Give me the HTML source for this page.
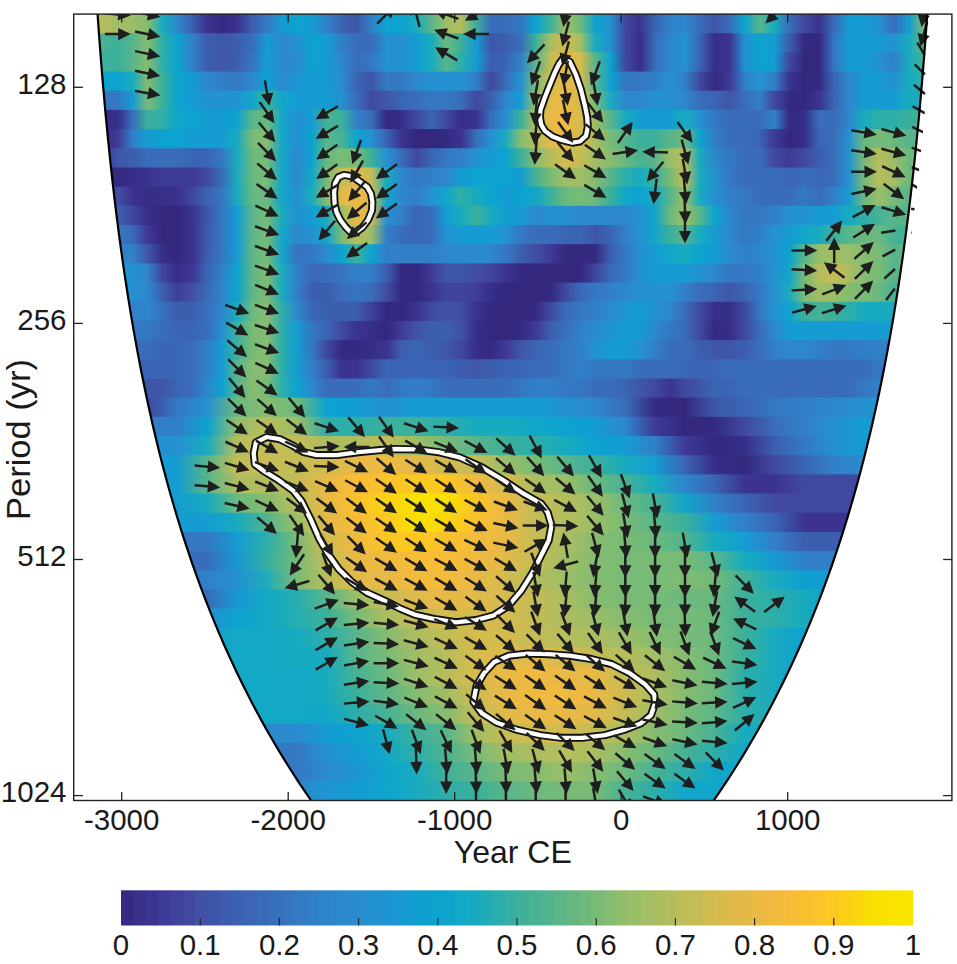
<!DOCTYPE html><html><head><meta charset="utf-8"><style>html,body{margin:0;padding:0;background:#fff;}svg{display:block;}text{font-family:"Liberation Sans",Arial,sans-serif;fill:#1a1a1a;}</style></head><body>
<svg width="957" height="964" viewBox="0 0 957 964">
<defs>
<clipPath id="pc"><rect x="74.0" y="14.0" width="878.0" height="786.5"/></clipPath>
<linearGradient id="g0" gradientUnits="userSpaceOnUse" x1="74.0" y1="0" x2="952.0" y2="0">
<stop offset="0.0159" stop-color="#b7bd5c"/>
<stop offset="0.0329" stop-color="#b7bd5c"/>
<stop offset="0.0499" stop-color="#a1be65"/>
<stop offset="0.0669" stop-color="#9bbe67"/>
<stop offset="0.0839" stop-color="#86bc70"/>
<stop offset="0.1009" stop-color="#18abbf"/>
<stop offset="0.1179" stop-color="#2d87cc"/>
<stop offset="0.1349" stop-color="#3c5eaf"/>
<stop offset="0.1519" stop-color="#3b338f"/>
<stop offset="0.1689" stop-color="#342a81"/>
<stop offset="0.1859" stop-color="#3b338f"/>
<stop offset="0.2029" stop-color="#3c5eaf"/>
<stop offset="0.2199" stop-color="#3478c2"/>
<stop offset="0.2369" stop-color="#159cd2"/>
<stop offset="0.2539" stop-color="#0ca3cf"/>
<stop offset="0.2709" stop-color="#159cd2"/>
<stop offset="0.2879" stop-color="#3180c7"/>
<stop offset="0.3049" stop-color="#3a65b4"/>
<stop offset="0.3219" stop-color="#3f56a8"/>
<stop offset="0.3389" stop-color="#3180c7"/>
<stop offset="0.3559" stop-color="#0ca3cf"/>
<stop offset="0.3729" stop-color="#0ca3cf"/>
<stop offset="0.3899" stop-color="#18abbf"/>
<stop offset="0.4069" stop-color="#58b58b"/>
<stop offset="0.4239" stop-color="#9bbe67"/>
<stop offset="0.4409" stop-color="#b7bd5c"/>
<stop offset="0.4579" stop-color="#3bb09a"/>
<stop offset="0.4749" stop-color="#396dba"/>
<stop offset="0.4919" stop-color="#396dba"/>
<stop offset="0.5089" stop-color="#3478c2"/>
<stop offset="0.5259" stop-color="#0ca3cf"/>
<stop offset="0.5429" stop-color="#3bb09a"/>
<stop offset="0.5599" stop-color="#a1be65"/>
<stop offset="0.5769" stop-color="#6bb97e"/>
<stop offset="0.5938" stop-color="#0ca3cf"/>
<stop offset="0.6108" stop-color="#2491d1"/>
<stop offset="0.6278" stop-color="#40499f"/>
<stop offset="0.6448" stop-color="#3b338f"/>
<stop offset="0.6618" stop-color="#3a65b4"/>
<stop offset="0.6788" stop-color="#3180c7"/>
<stop offset="0.6958" stop-color="#2d87cc"/>
<stop offset="0.7128" stop-color="#396dba"/>
<stop offset="0.7298" stop-color="#3f56a8"/>
<stop offset="0.7468" stop-color="#396dba"/>
<stop offset="0.7638" stop-color="#0ca3cf"/>
<stop offset="0.7808" stop-color="#58b58b"/>
<stop offset="0.7978" stop-color="#18abbf"/>
<stop offset="0.8148" stop-color="#396dba"/>
<stop offset="0.8318" stop-color="#40499f"/>
<stop offset="0.8488" stop-color="#3b338f"/>
<stop offset="0.8658" stop-color="#396dba"/>
<stop offset="0.8828" stop-color="#159cd2"/>
<stop offset="0.8998" stop-color="#159cd2"/>
<stop offset="0.9168" stop-color="#2491d1"/>
<stop offset="0.9338" stop-color="#396dba"/>
<stop offset="0.9508" stop-color="#159cd2"/>
<stop offset="0.9678" stop-color="#78bb76"/>
<stop offset="0.9848" stop-color="#78bb76"/>
<stop offset="1.0000" stop-color="#78bb76"/>
</linearGradient>
<linearGradient id="g1" gradientUnits="userSpaceOnUse" x1="74.0" y1="0" x2="952.0" y2="0">
<stop offset="0.0159" stop-color="#47b294"/>
<stop offset="0.0329" stop-color="#47b294"/>
<stop offset="0.0499" stop-color="#3bb09a"/>
<stop offset="0.0669" stop-color="#58b58b"/>
<stop offset="0.0839" stop-color="#86bc70"/>
<stop offset="0.1009" stop-color="#2daea9"/>
<stop offset="0.1179" stop-color="#0ca3cf"/>
<stop offset="0.1349" stop-color="#3180c7"/>
<stop offset="0.1519" stop-color="#3c5eaf"/>
<stop offset="0.1689" stop-color="#3f56a8"/>
<stop offset="0.1859" stop-color="#3c5eaf"/>
<stop offset="0.2029" stop-color="#396dba"/>
<stop offset="0.2199" stop-color="#159cd2"/>
<stop offset="0.2369" stop-color="#2d87cc"/>
<stop offset="0.2539" stop-color="#2491d1"/>
<stop offset="0.2709" stop-color="#0ca3cf"/>
<stop offset="0.2879" stop-color="#159cd2"/>
<stop offset="0.3049" stop-color="#3180c7"/>
<stop offset="0.3219" stop-color="#396dba"/>
<stop offset="0.3389" stop-color="#396dba"/>
<stop offset="0.3559" stop-color="#2491d1"/>
<stop offset="0.3729" stop-color="#2491d1"/>
<stop offset="0.3899" stop-color="#159cd2"/>
<stop offset="0.4069" stop-color="#18abbf"/>
<stop offset="0.4239" stop-color="#6bb97e"/>
<stop offset="0.4409" stop-color="#3bb09a"/>
<stop offset="0.4579" stop-color="#159cd2"/>
<stop offset="0.4749" stop-color="#3f56a8"/>
<stop offset="0.4919" stop-color="#3c5eaf"/>
<stop offset="0.5089" stop-color="#396dba"/>
<stop offset="0.5259" stop-color="#3bb09a"/>
<stop offset="0.5429" stop-color="#acbd60"/>
<stop offset="0.5599" stop-color="#d4bb4e"/>
<stop offset="0.5769" stop-color="#a1be65"/>
<stop offset="0.5938" stop-color="#18abbf"/>
<stop offset="0.6108" stop-color="#2491d1"/>
<stop offset="0.6278" stop-color="#40499f"/>
<stop offset="0.6448" stop-color="#372e88"/>
<stop offset="0.6618" stop-color="#396dba"/>
<stop offset="0.6788" stop-color="#2d87cc"/>
<stop offset="0.6958" stop-color="#2491d1"/>
<stop offset="0.7128" stop-color="#3a65b4"/>
<stop offset="0.7298" stop-color="#372e88"/>
<stop offset="0.7468" stop-color="#3b338f"/>
<stop offset="0.7638" stop-color="#2491d1"/>
<stop offset="0.7808" stop-color="#0ca3cf"/>
<stop offset="0.7978" stop-color="#159cd2"/>
<stop offset="0.8148" stop-color="#3c5eaf"/>
<stop offset="0.8318" stop-color="#342a81"/>
<stop offset="0.8488" stop-color="#33287e"/>
<stop offset="0.8658" stop-color="#3478c2"/>
<stop offset="0.8828" stop-color="#159cd2"/>
<stop offset="0.8998" stop-color="#159cd2"/>
<stop offset="0.9168" stop-color="#159cd2"/>
<stop offset="0.9338" stop-color="#2491d1"/>
<stop offset="0.9508" stop-color="#18abbf"/>
<stop offset="0.9678" stop-color="#58b58b"/>
<stop offset="0.9848" stop-color="#58b58b"/>
<stop offset="1.0000" stop-color="#58b58b"/>
</linearGradient>
<linearGradient id="g2" gradientUnits="userSpaceOnUse" x1="74.0" y1="0" x2="952.0" y2="0">
<stop offset="0.0159" stop-color="#3bb09a"/>
<stop offset="0.0329" stop-color="#3bb09a"/>
<stop offset="0.0499" stop-color="#3bb09a"/>
<stop offset="0.0669" stop-color="#58b58b"/>
<stop offset="0.0839" stop-color="#86bc70"/>
<stop offset="0.1009" stop-color="#2daea9"/>
<stop offset="0.1179" stop-color="#0ca3cf"/>
<stop offset="0.1349" stop-color="#3180c7"/>
<stop offset="0.1519" stop-color="#3c5eaf"/>
<stop offset="0.1689" stop-color="#3f56a8"/>
<stop offset="0.1859" stop-color="#3c5eaf"/>
<stop offset="0.2029" stop-color="#3674bf"/>
<stop offset="0.2199" stop-color="#159cd2"/>
<stop offset="0.2369" stop-color="#2d87cc"/>
<stop offset="0.2539" stop-color="#2b8ace"/>
<stop offset="0.2709" stop-color="#0ca3cf"/>
<stop offset="0.2879" stop-color="#159cd2"/>
<stop offset="0.3049" stop-color="#2d87cc"/>
<stop offset="0.3219" stop-color="#396dba"/>
<stop offset="0.3389" stop-color="#3478c2"/>
<stop offset="0.3559" stop-color="#2491d1"/>
<stop offset="0.3729" stop-color="#2491d1"/>
<stop offset="0.3899" stop-color="#159cd2"/>
<stop offset="0.4069" stop-color="#18abbf"/>
<stop offset="0.4239" stop-color="#58b58b"/>
<stop offset="0.4409" stop-color="#2daea9"/>
<stop offset="0.4579" stop-color="#159cd2"/>
<stop offset="0.4749" stop-color="#3c5eaf"/>
<stop offset="0.4919" stop-color="#3a65b4"/>
<stop offset="0.5089" stop-color="#3180c7"/>
<stop offset="0.5259" stop-color="#58b58b"/>
<stop offset="0.5429" stop-color="#c3bc56"/>
<stop offset="0.5599" stop-color="#e9b946"/>
<stop offset="0.5769" stop-color="#d4bb4e"/>
<stop offset="0.5938" stop-color="#58b58b"/>
<stop offset="0.6108" stop-color="#0ca3cf"/>
<stop offset="0.6278" stop-color="#40499f"/>
<stop offset="0.6448" stop-color="#372e88"/>
<stop offset="0.6618" stop-color="#396dba"/>
<stop offset="0.6788" stop-color="#2d87cc"/>
<stop offset="0.6958" stop-color="#2491d1"/>
<stop offset="0.7128" stop-color="#3a65b4"/>
<stop offset="0.7298" stop-color="#372e88"/>
<stop offset="0.7468" stop-color="#3b338f"/>
<stop offset="0.7638" stop-color="#2491d1"/>
<stop offset="0.7808" stop-color="#0ca3cf"/>
<stop offset="0.7978" stop-color="#159cd2"/>
<stop offset="0.8148" stop-color="#40499f"/>
<stop offset="0.8318" stop-color="#33287e"/>
<stop offset="0.8488" stop-color="#33287e"/>
<stop offset="0.8658" stop-color="#3478c2"/>
<stop offset="0.8828" stop-color="#159cd2"/>
<stop offset="0.8998" stop-color="#159cd2"/>
<stop offset="0.9168" stop-color="#2491d1"/>
<stop offset="0.9338" stop-color="#3180c7"/>
<stop offset="0.9508" stop-color="#18abbf"/>
<stop offset="0.9678" stop-color="#47b294"/>
<stop offset="0.9848" stop-color="#47b294"/>
<stop offset="1.0000" stop-color="#47b294"/>
</linearGradient>
<linearGradient id="g3" gradientUnits="userSpaceOnUse" x1="74.0" y1="0" x2="952.0" y2="0">
<stop offset="0.0159" stop-color="#0ca3cf"/>
<stop offset="0.0329" stop-color="#0ca3cf"/>
<stop offset="0.0499" stop-color="#0ca3cf"/>
<stop offset="0.0669" stop-color="#18abbf"/>
<stop offset="0.0839" stop-color="#86bc70"/>
<stop offset="0.1009" stop-color="#3bb09a"/>
<stop offset="0.1179" stop-color="#0ca3cf"/>
<stop offset="0.1349" stop-color="#159cd2"/>
<stop offset="0.1519" stop-color="#2d87cc"/>
<stop offset="0.1689" stop-color="#3180c7"/>
<stop offset="0.1859" stop-color="#3478c2"/>
<stop offset="0.2029" stop-color="#2d87cc"/>
<stop offset="0.2199" stop-color="#0ca3cf"/>
<stop offset="0.2369" stop-color="#2b8ace"/>
<stop offset="0.2539" stop-color="#1e95d2"/>
<stop offset="0.2709" stop-color="#159cd2"/>
<stop offset="0.2879" stop-color="#159cd2"/>
<stop offset="0.3049" stop-color="#2b8ace"/>
<stop offset="0.3219" stop-color="#3a65b4"/>
<stop offset="0.3389" stop-color="#3f56a8"/>
<stop offset="0.3559" stop-color="#3478c2"/>
<stop offset="0.3729" stop-color="#3478c2"/>
<stop offset="0.3899" stop-color="#2d87cc"/>
<stop offset="0.4069" stop-color="#2491d1"/>
<stop offset="0.4239" stop-color="#2491d1"/>
<stop offset="0.4409" stop-color="#2491d1"/>
<stop offset="0.4579" stop-color="#3180c7"/>
<stop offset="0.4749" stop-color="#40499f"/>
<stop offset="0.4919" stop-color="#396dba"/>
<stop offset="0.5089" stop-color="#2491d1"/>
<stop offset="0.5259" stop-color="#78bb76"/>
<stop offset="0.5429" stop-color="#d4bb4e"/>
<stop offset="0.5599" stop-color="#e9b946"/>
<stop offset="0.5769" stop-color="#d4bb4e"/>
<stop offset="0.5938" stop-color="#58b58b"/>
<stop offset="0.6108" stop-color="#0ca3cf"/>
<stop offset="0.6278" stop-color="#3478c2"/>
<stop offset="0.6448" stop-color="#3478c2"/>
<stop offset="0.6618" stop-color="#3180c7"/>
<stop offset="0.6788" stop-color="#2491d1"/>
<stop offset="0.6958" stop-color="#3180c7"/>
<stop offset="0.7128" stop-color="#40499f"/>
<stop offset="0.7298" stop-color="#342a81"/>
<stop offset="0.7468" stop-color="#3e3a97"/>
<stop offset="0.7638" stop-color="#3180c7"/>
<stop offset="0.7808" stop-color="#2491d1"/>
<stop offset="0.7978" stop-color="#3180c7"/>
<stop offset="0.8148" stop-color="#3b338f"/>
<stop offset="0.8318" stop-color="#33287e"/>
<stop offset="0.8488" stop-color="#342a81"/>
<stop offset="0.8658" stop-color="#3a65b4"/>
<stop offset="0.8828" stop-color="#2d87cc"/>
<stop offset="0.8998" stop-color="#159cd2"/>
<stop offset="0.9168" stop-color="#159cd2"/>
<stop offset="0.9338" stop-color="#2491d1"/>
<stop offset="0.9508" stop-color="#18abbf"/>
<stop offset="0.9678" stop-color="#2daea9"/>
<stop offset="0.9848" stop-color="#2daea9"/>
<stop offset="1.0000" stop-color="#2daea9"/>
</linearGradient>
<linearGradient id="g4" gradientUnits="userSpaceOnUse" x1="74.0" y1="0" x2="952.0" y2="0">
<stop offset="0.0159" stop-color="#3478c2"/>
<stop offset="0.0329" stop-color="#3478c2"/>
<stop offset="0.0499" stop-color="#3478c2"/>
<stop offset="0.0669" stop-color="#159cd2"/>
<stop offset="0.0839" stop-color="#78bb76"/>
<stop offset="0.1009" stop-color="#3bb09a"/>
<stop offset="0.1179" stop-color="#0ca3cf"/>
<stop offset="0.1349" stop-color="#159cd2"/>
<stop offset="0.1519" stop-color="#2491d1"/>
<stop offset="0.1689" stop-color="#2491d1"/>
<stop offset="0.1859" stop-color="#1e95d2"/>
<stop offset="0.2029" stop-color="#11a6c9"/>
<stop offset="0.2199" stop-color="#3bb09a"/>
<stop offset="0.2369" stop-color="#11a6c9"/>
<stop offset="0.2539" stop-color="#159cd2"/>
<stop offset="0.2709" stop-color="#159cd2"/>
<stop offset="0.2879" stop-color="#159cd2"/>
<stop offset="0.3049" stop-color="#2491d1"/>
<stop offset="0.3219" stop-color="#396dba"/>
<stop offset="0.3389" stop-color="#40499f"/>
<stop offset="0.3559" stop-color="#3f56a8"/>
<stop offset="0.3729" stop-color="#3a65b4"/>
<stop offset="0.3899" stop-color="#396dba"/>
<stop offset="0.4069" stop-color="#3478c2"/>
<stop offset="0.4239" stop-color="#3478c2"/>
<stop offset="0.4409" stop-color="#396dba"/>
<stop offset="0.4579" stop-color="#40499f"/>
<stop offset="0.4749" stop-color="#3c5eaf"/>
<stop offset="0.4919" stop-color="#2d87cc"/>
<stop offset="0.5089" stop-color="#159cd2"/>
<stop offset="0.5259" stop-color="#9bbe67"/>
<stop offset="0.5429" stop-color="#e1ba49"/>
<stop offset="0.5599" stop-color="#efba40"/>
<stop offset="0.5769" stop-color="#d4bb4e"/>
<stop offset="0.5938" stop-color="#78bb76"/>
<stop offset="0.6108" stop-color="#18abbf"/>
<stop offset="0.6278" stop-color="#2d87cc"/>
<stop offset="0.6448" stop-color="#2d87cc"/>
<stop offset="0.6618" stop-color="#2491d1"/>
<stop offset="0.6788" stop-color="#2491d1"/>
<stop offset="0.6958" stop-color="#2d87cc"/>
<stop offset="0.7128" stop-color="#396dba"/>
<stop offset="0.7298" stop-color="#3a65b4"/>
<stop offset="0.7468" stop-color="#3f56a8"/>
<stop offset="0.7638" stop-color="#396dba"/>
<stop offset="0.7808" stop-color="#3180c7"/>
<stop offset="0.7978" stop-color="#40499f"/>
<stop offset="0.8148" stop-color="#342a81"/>
<stop offset="0.8318" stop-color="#33287e"/>
<stop offset="0.8488" stop-color="#3b338f"/>
<stop offset="0.8658" stop-color="#3a65b4"/>
<stop offset="0.8828" stop-color="#2d87cc"/>
<stop offset="0.8998" stop-color="#159cd2"/>
<stop offset="0.9168" stop-color="#159cd2"/>
<stop offset="0.9338" stop-color="#159cd2"/>
<stop offset="0.9508" stop-color="#18abbf"/>
<stop offset="0.9678" stop-color="#18abbf"/>
<stop offset="0.9848" stop-color="#18abbf"/>
<stop offset="1.0000" stop-color="#18abbf"/>
</linearGradient>
<linearGradient id="g5" gradientUnits="userSpaceOnUse" x1="74.0" y1="0" x2="952.0" y2="0">
<stop offset="0.0159" stop-color="#3f56a8"/>
<stop offset="0.0329" stop-color="#372e88"/>
<stop offset="0.0499" stop-color="#372e88"/>
<stop offset="0.0669" stop-color="#396dba"/>
<stop offset="0.0839" stop-color="#3bb09a"/>
<stop offset="0.1009" stop-color="#2daea9"/>
<stop offset="0.1179" stop-color="#11a6c9"/>
<stop offset="0.1349" stop-color="#0ca3cf"/>
<stop offset="0.1519" stop-color="#159cd2"/>
<stop offset="0.1689" stop-color="#159cd2"/>
<stop offset="0.1859" stop-color="#0ca3cf"/>
<stop offset="0.2029" stop-color="#58b58b"/>
<stop offset="0.2199" stop-color="#6bb97e"/>
<stop offset="0.2369" stop-color="#11a6c9"/>
<stop offset="0.2539" stop-color="#2491d1"/>
<stop offset="0.2709" stop-color="#159cd2"/>
<stop offset="0.2879" stop-color="#47b294"/>
<stop offset="0.3049" stop-color="#3bb09a"/>
<stop offset="0.3219" stop-color="#3180c7"/>
<stop offset="0.3389" stop-color="#396dba"/>
<stop offset="0.3559" stop-color="#342a81"/>
<stop offset="0.3729" stop-color="#372e88"/>
<stop offset="0.3899" stop-color="#40499f"/>
<stop offset="0.4069" stop-color="#3a65b4"/>
<stop offset="0.4239" stop-color="#40499f"/>
<stop offset="0.4409" stop-color="#372e88"/>
<stop offset="0.4579" stop-color="#3b338f"/>
<stop offset="0.4749" stop-color="#396dba"/>
<stop offset="0.4919" stop-color="#2491d1"/>
<stop offset="0.5089" stop-color="#3bb09a"/>
<stop offset="0.5259" stop-color="#b7bd5c"/>
<stop offset="0.5429" stop-color="#e9b946"/>
<stop offset="0.5599" stop-color="#efba40"/>
<stop offset="0.5769" stop-color="#d4bb4e"/>
<stop offset="0.5938" stop-color="#9bbe67"/>
<stop offset="0.6108" stop-color="#58b58b"/>
<stop offset="0.6278" stop-color="#18abbf"/>
<stop offset="0.6448" stop-color="#159cd2"/>
<stop offset="0.6618" stop-color="#159cd2"/>
<stop offset="0.6788" stop-color="#159cd2"/>
<stop offset="0.6958" stop-color="#18abbf"/>
<stop offset="0.7128" stop-color="#2491d1"/>
<stop offset="0.7298" stop-color="#3478c2"/>
<stop offset="0.7468" stop-color="#396dba"/>
<stop offset="0.7638" stop-color="#396dba"/>
<stop offset="0.7808" stop-color="#396dba"/>
<stop offset="0.7978" stop-color="#3180c7"/>
<stop offset="0.8148" stop-color="#342a81"/>
<stop offset="0.8318" stop-color="#372e88"/>
<stop offset="0.8488" stop-color="#396dba"/>
<stop offset="0.8658" stop-color="#396dba"/>
<stop offset="0.8828" stop-color="#2d87cc"/>
<stop offset="0.8998" stop-color="#18abbf"/>
<stop offset="0.9168" stop-color="#2daea9"/>
<stop offset="0.9338" stop-color="#2daea9"/>
<stop offset="0.9508" stop-color="#3bb09a"/>
<stop offset="0.9678" stop-color="#3bb09a"/>
<stop offset="0.9848" stop-color="#3bb09a"/>
<stop offset="1.0000" stop-color="#3bb09a"/>
</linearGradient>
<linearGradient id="g6" gradientUnits="userSpaceOnUse" x1="74.0" y1="0" x2="952.0" y2="0">
<stop offset="0.0159" stop-color="#3e3a97"/>
<stop offset="0.0329" stop-color="#372e88"/>
<stop offset="0.0499" stop-color="#3e3a97"/>
<stop offset="0.0669" stop-color="#3180c7"/>
<stop offset="0.0839" stop-color="#159cd2"/>
<stop offset="0.1009" stop-color="#0ca3cf"/>
<stop offset="0.1179" stop-color="#0ca3cf"/>
<stop offset="0.1349" stop-color="#159cd2"/>
<stop offset="0.1519" stop-color="#159cd2"/>
<stop offset="0.1689" stop-color="#159cd2"/>
<stop offset="0.1859" stop-color="#18abbf"/>
<stop offset="0.2029" stop-color="#78bb76"/>
<stop offset="0.2199" stop-color="#86bc70"/>
<stop offset="0.2369" stop-color="#11a6c9"/>
<stop offset="0.2539" stop-color="#2491d1"/>
<stop offset="0.2709" stop-color="#0ca3cf"/>
<stop offset="0.2879" stop-color="#58b58b"/>
<stop offset="0.3049" stop-color="#47b294"/>
<stop offset="0.3219" stop-color="#0ca3cf"/>
<stop offset="0.3389" stop-color="#2491d1"/>
<stop offset="0.3559" stop-color="#3a65b4"/>
<stop offset="0.3729" stop-color="#3b338f"/>
<stop offset="0.3899" stop-color="#33287e"/>
<stop offset="0.4069" stop-color="#33287e"/>
<stop offset="0.4239" stop-color="#342a81"/>
<stop offset="0.4409" stop-color="#3b338f"/>
<stop offset="0.4579" stop-color="#396dba"/>
<stop offset="0.4749" stop-color="#2491d1"/>
<stop offset="0.4919" stop-color="#18abbf"/>
<stop offset="0.5089" stop-color="#86bc70"/>
<stop offset="0.5259" stop-color="#b7bd5c"/>
<stop offset="0.5429" stop-color="#e1ba49"/>
<stop offset="0.5599" stop-color="#e9b946"/>
<stop offset="0.5769" stop-color="#d4bb4e"/>
<stop offset="0.5938" stop-color="#acbd60"/>
<stop offset="0.6108" stop-color="#78bb76"/>
<stop offset="0.6278" stop-color="#58b58b"/>
<stop offset="0.6448" stop-color="#3bb09a"/>
<stop offset="0.6618" stop-color="#3bb09a"/>
<stop offset="0.6788" stop-color="#58b58b"/>
<stop offset="0.6958" stop-color="#6bb97e"/>
<stop offset="0.7128" stop-color="#0ca3cf"/>
<stop offset="0.7298" stop-color="#3180c7"/>
<stop offset="0.7468" stop-color="#396dba"/>
<stop offset="0.7638" stop-color="#396dba"/>
<stop offset="0.7808" stop-color="#3a65b4"/>
<stop offset="0.7978" stop-color="#3e3a97"/>
<stop offset="0.8148" stop-color="#33287e"/>
<stop offset="0.8318" stop-color="#372e88"/>
<stop offset="0.8488" stop-color="#3a65b4"/>
<stop offset="0.8658" stop-color="#396dba"/>
<stop offset="0.8828" stop-color="#2491d1"/>
<stop offset="0.8998" stop-color="#6bb97e"/>
<stop offset="0.9168" stop-color="#78bb76"/>
<stop offset="0.9338" stop-color="#6bb97e"/>
<stop offset="0.9508" stop-color="#58b58b"/>
<stop offset="0.9678" stop-color="#58b58b"/>
<stop offset="0.9848" stop-color="#58b58b"/>
<stop offset="1.0000" stop-color="#58b58b"/>
</linearGradient>
<linearGradient id="g7" gradientUnits="userSpaceOnUse" x1="74.0" y1="0" x2="952.0" y2="0">
<stop offset="0.0159" stop-color="#40499f"/>
<stop offset="0.0329" stop-color="#3e3a97"/>
<stop offset="0.0499" stop-color="#3f56a8"/>
<stop offset="0.0669" stop-color="#3c5eaf"/>
<stop offset="0.0839" stop-color="#396dba"/>
<stop offset="0.1009" stop-color="#396dba"/>
<stop offset="0.1179" stop-color="#396dba"/>
<stop offset="0.1349" stop-color="#3a65b4"/>
<stop offset="0.1519" stop-color="#3a65b4"/>
<stop offset="0.1689" stop-color="#3478c2"/>
<stop offset="0.1859" stop-color="#18abbf"/>
<stop offset="0.2029" stop-color="#6bb97e"/>
<stop offset="0.2199" stop-color="#78bb76"/>
<stop offset="0.2369" stop-color="#11a6c9"/>
<stop offset="0.2539" stop-color="#2b8ace"/>
<stop offset="0.2709" stop-color="#0ca3cf"/>
<stop offset="0.2879" stop-color="#6bb97e"/>
<stop offset="0.3049" stop-color="#78bb76"/>
<stop offset="0.3219" stop-color="#78bb76"/>
<stop offset="0.3389" stop-color="#3bb09a"/>
<stop offset="0.3559" stop-color="#2491d1"/>
<stop offset="0.3729" stop-color="#396dba"/>
<stop offset="0.3899" stop-color="#40499f"/>
<stop offset="0.4069" stop-color="#3a65b4"/>
<stop offset="0.4239" stop-color="#3478c2"/>
<stop offset="0.4409" stop-color="#3180c7"/>
<stop offset="0.4579" stop-color="#2491d1"/>
<stop offset="0.4749" stop-color="#159cd2"/>
<stop offset="0.4919" stop-color="#0ca3cf"/>
<stop offset="0.5089" stop-color="#3bb09a"/>
<stop offset="0.5259" stop-color="#86bc70"/>
<stop offset="0.5429" stop-color="#b7bd5c"/>
<stop offset="0.5599" stop-color="#d4bb4e"/>
<stop offset="0.5769" stop-color="#c3bc56"/>
<stop offset="0.5938" stop-color="#a1be65"/>
<stop offset="0.6108" stop-color="#86bc70"/>
<stop offset="0.6278" stop-color="#6bb97e"/>
<stop offset="0.6448" stop-color="#47b294"/>
<stop offset="0.6618" stop-color="#58b58b"/>
<stop offset="0.6788" stop-color="#9bbe67"/>
<stop offset="0.6958" stop-color="#b7bd5c"/>
<stop offset="0.7128" stop-color="#18abbf"/>
<stop offset="0.7298" stop-color="#2d87cc"/>
<stop offset="0.7468" stop-color="#3478c2"/>
<stop offset="0.7638" stop-color="#396dba"/>
<stop offset="0.7808" stop-color="#396dba"/>
<stop offset="0.7978" stop-color="#40499f"/>
<stop offset="0.8148" stop-color="#3e3a97"/>
<stop offset="0.8318" stop-color="#40499f"/>
<stop offset="0.8488" stop-color="#3c5eaf"/>
<stop offset="0.8658" stop-color="#396dba"/>
<stop offset="0.8828" stop-color="#2491d1"/>
<stop offset="0.8998" stop-color="#78bb76"/>
<stop offset="0.9168" stop-color="#b7bd5c"/>
<stop offset="0.9338" stop-color="#9bbe67"/>
<stop offset="0.9508" stop-color="#6bb97e"/>
<stop offset="0.9678" stop-color="#6bb97e"/>
<stop offset="0.9848" stop-color="#6bb97e"/>
<stop offset="1.0000" stop-color="#6bb97e"/>
</linearGradient>
<linearGradient id="g8" gradientUnits="userSpaceOnUse" x1="74.0" y1="0" x2="952.0" y2="0">
<stop offset="0.0159" stop-color="#40499f"/>
<stop offset="0.0329" stop-color="#342a81"/>
<stop offset="0.0499" stop-color="#342a81"/>
<stop offset="0.0669" stop-color="#372e88"/>
<stop offset="0.0839" stop-color="#3b338f"/>
<stop offset="0.1009" stop-color="#3e3a97"/>
<stop offset="0.1179" stop-color="#3e3a97"/>
<stop offset="0.1349" stop-color="#3e3a97"/>
<stop offset="0.1519" stop-color="#40499f"/>
<stop offset="0.1689" stop-color="#396dba"/>
<stop offset="0.1859" stop-color="#18abbf"/>
<stop offset="0.2029" stop-color="#6bb97e"/>
<stop offset="0.2199" stop-color="#78bb76"/>
<stop offset="0.2369" stop-color="#11a6c9"/>
<stop offset="0.2539" stop-color="#2b8ace"/>
<stop offset="0.2709" stop-color="#11a6c9"/>
<stop offset="0.2879" stop-color="#78bb76"/>
<stop offset="0.3049" stop-color="#c3bc56"/>
<stop offset="0.3219" stop-color="#e1ba49"/>
<stop offset="0.3389" stop-color="#c3bc56"/>
<stop offset="0.3559" stop-color="#18abbf"/>
<stop offset="0.3729" stop-color="#2d87cc"/>
<stop offset="0.3899" stop-color="#3478c2"/>
<stop offset="0.4069" stop-color="#3180c7"/>
<stop offset="0.4239" stop-color="#2d87cc"/>
<stop offset="0.4409" stop-color="#159cd2"/>
<stop offset="0.4579" stop-color="#0ca3cf"/>
<stop offset="0.4749" stop-color="#0ca3cf"/>
<stop offset="0.4919" stop-color="#0ca3cf"/>
<stop offset="0.5089" stop-color="#159cd2"/>
<stop offset="0.5259" stop-color="#47b294"/>
<stop offset="0.5429" stop-color="#78bb76"/>
<stop offset="0.5599" stop-color="#a1be65"/>
<stop offset="0.5769" stop-color="#a1be65"/>
<stop offset="0.5938" stop-color="#86bc70"/>
<stop offset="0.6108" stop-color="#58b58b"/>
<stop offset="0.6278" stop-color="#2daea9"/>
<stop offset="0.6448" stop-color="#18abbf"/>
<stop offset="0.6618" stop-color="#3bb09a"/>
<stop offset="0.6788" stop-color="#78bb76"/>
<stop offset="0.6958" stop-color="#c3bc56"/>
<stop offset="0.7128" stop-color="#18abbf"/>
<stop offset="0.7298" stop-color="#2491d1"/>
<stop offset="0.7468" stop-color="#3478c2"/>
<stop offset="0.7638" stop-color="#396dba"/>
<stop offset="0.7808" stop-color="#396dba"/>
<stop offset="0.7978" stop-color="#396dba"/>
<stop offset="0.8148" stop-color="#3a65b4"/>
<stop offset="0.8318" stop-color="#396dba"/>
<stop offset="0.8488" stop-color="#3a65b4"/>
<stop offset="0.8658" stop-color="#396dba"/>
<stop offset="0.8828" stop-color="#2491d1"/>
<stop offset="0.8998" stop-color="#78bb76"/>
<stop offset="0.9168" stop-color="#b7bd5c"/>
<stop offset="0.9338" stop-color="#a1be65"/>
<stop offset="0.9508" stop-color="#6bb97e"/>
<stop offset="0.9678" stop-color="#6bb97e"/>
<stop offset="0.9848" stop-color="#6bb97e"/>
<stop offset="1.0000" stop-color="#6bb97e"/>
</linearGradient>
<linearGradient id="g9" gradientUnits="userSpaceOnUse" x1="74.0" y1="0" x2="952.0" y2="0">
<stop offset="0.0159" stop-color="#3e3a97"/>
<stop offset="0.0329" stop-color="#3e3a97"/>
<stop offset="0.0499" stop-color="#4150a3"/>
<stop offset="0.0669" stop-color="#3a328c"/>
<stop offset="0.0839" stop-color="#372e88"/>
<stop offset="0.1009" stop-color="#372e88"/>
<stop offset="0.1179" stop-color="#3a328c"/>
<stop offset="0.1349" stop-color="#40469e"/>
<stop offset="0.1519" stop-color="#3b62b2"/>
<stop offset="0.1689" stop-color="#3577c1"/>
<stop offset="0.1859" stop-color="#18abbf"/>
<stop offset="0.2029" stop-color="#65b783"/>
<stop offset="0.2199" stop-color="#6bb97e"/>
<stop offset="0.2369" stop-color="#11a6c9"/>
<stop offset="0.2539" stop-color="#2491d1"/>
<stop offset="0.2709" stop-color="#18abbf"/>
<stop offset="0.2879" stop-color="#86bc70"/>
<stop offset="0.3049" stop-color="#e1ba49"/>
<stop offset="0.3219" stop-color="#e9b946"/>
<stop offset="0.3389" stop-color="#e1ba49"/>
<stop offset="0.3559" stop-color="#11a6c9"/>
<stop offset="0.3729" stop-color="#2d87cc"/>
<stop offset="0.3899" stop-color="#3180c7"/>
<stop offset="0.4069" stop-color="#2491d1"/>
<stop offset="0.4239" stop-color="#11a6c9"/>
<stop offset="0.4409" stop-color="#2daea9"/>
<stop offset="0.4579" stop-color="#18abbf"/>
<stop offset="0.4749" stop-color="#0ca3cf"/>
<stop offset="0.4919" stop-color="#159cd2"/>
<stop offset="0.5089" stop-color="#0ca3cf"/>
<stop offset="0.5259" stop-color="#11a6c9"/>
<stop offset="0.5429" stop-color="#3bb09a"/>
<stop offset="0.5599" stop-color="#6bb97e"/>
<stop offset="0.5769" stop-color="#78bb76"/>
<stop offset="0.5938" stop-color="#6bb97e"/>
<stop offset="0.6108" stop-color="#3bb09a"/>
<stop offset="0.6278" stop-color="#11a6c9"/>
<stop offset="0.6448" stop-color="#0ca3cf"/>
<stop offset="0.6618" stop-color="#18abbf"/>
<stop offset="0.6788" stop-color="#58b58b"/>
<stop offset="0.6958" stop-color="#9bbe67"/>
<stop offset="0.7128" stop-color="#18abbf"/>
<stop offset="0.7298" stop-color="#2491d1"/>
<stop offset="0.7468" stop-color="#3180c7"/>
<stop offset="0.7638" stop-color="#3478c2"/>
<stop offset="0.7808" stop-color="#396dba"/>
<stop offset="0.7978" stop-color="#396dba"/>
<stop offset="0.8148" stop-color="#396dba"/>
<stop offset="0.8318" stop-color="#3478c2"/>
<stop offset="0.8488" stop-color="#396dba"/>
<stop offset="0.8658" stop-color="#3180c7"/>
<stop offset="0.8828" stop-color="#159cd2"/>
<stop offset="0.8998" stop-color="#6bb97e"/>
<stop offset="0.9168" stop-color="#9bbe67"/>
<stop offset="0.9338" stop-color="#78bb76"/>
<stop offset="0.9508" stop-color="#58b58b"/>
<stop offset="0.9678" stop-color="#58b58b"/>
<stop offset="0.9848" stop-color="#58b58b"/>
<stop offset="1.0000" stop-color="#58b58b"/>
</linearGradient>
<linearGradient id="g10" gradientUnits="userSpaceOnUse" x1="74.0" y1="0" x2="952.0" y2="0">
<stop offset="0.0159" stop-color="#3a65b4"/>
<stop offset="0.0329" stop-color="#3a65b4"/>
<stop offset="0.0499" stop-color="#3b62b2"/>
<stop offset="0.0669" stop-color="#40469e"/>
<stop offset="0.0839" stop-color="#372e88"/>
<stop offset="0.1009" stop-color="#33287e"/>
<stop offset="0.1179" stop-color="#33287e"/>
<stop offset="0.1349" stop-color="#3a328c"/>
<stop offset="0.1519" stop-color="#3f57a9"/>
<stop offset="0.1689" stop-color="#3577c1"/>
<stop offset="0.1859" stop-color="#159cd2"/>
<stop offset="0.2029" stop-color="#58b58b"/>
<stop offset="0.2199" stop-color="#78bb76"/>
<stop offset="0.2369" stop-color="#18abbf"/>
<stop offset="0.2539" stop-color="#2491d1"/>
<stop offset="0.2709" stop-color="#159cd2"/>
<stop offset="0.2879" stop-color="#18abbf"/>
<stop offset="0.3049" stop-color="#9bbe67"/>
<stop offset="0.3219" stop-color="#e9b946"/>
<stop offset="0.3389" stop-color="#d4bb4e"/>
<stop offset="0.3559" stop-color="#2491d1"/>
<stop offset="0.3729" stop-color="#3180c7"/>
<stop offset="0.3899" stop-color="#3a65b4"/>
<stop offset="0.4069" stop-color="#396dba"/>
<stop offset="0.4239" stop-color="#159cd2"/>
<stop offset="0.4409" stop-color="#18abbf"/>
<stop offset="0.4579" stop-color="#3bb09a"/>
<stop offset="0.4749" stop-color="#18abbf"/>
<stop offset="0.4919" stop-color="#159cd2"/>
<stop offset="0.5089" stop-color="#159cd2"/>
<stop offset="0.5259" stop-color="#2d87cc"/>
<stop offset="0.5429" stop-color="#2491d1"/>
<stop offset="0.5599" stop-color="#2491d1"/>
<stop offset="0.5769" stop-color="#2b8ace"/>
<stop offset="0.5938" stop-color="#2d87cc"/>
<stop offset="0.6108" stop-color="#2d87cc"/>
<stop offset="0.6278" stop-color="#2d87cc"/>
<stop offset="0.6448" stop-color="#2491d1"/>
<stop offset="0.6618" stop-color="#11a6c9"/>
<stop offset="0.6788" stop-color="#6bb97e"/>
<stop offset="0.6958" stop-color="#9bbe67"/>
<stop offset="0.7128" stop-color="#58b58b"/>
<stop offset="0.7298" stop-color="#0ca3cf"/>
<stop offset="0.7468" stop-color="#2d87cc"/>
<stop offset="0.7638" stop-color="#3478c2"/>
<stop offset="0.7808" stop-color="#3478c2"/>
<stop offset="0.7978" stop-color="#3180c7"/>
<stop offset="0.8148" stop-color="#2491d1"/>
<stop offset="0.8318" stop-color="#2491d1"/>
<stop offset="0.8488" stop-color="#159cd2"/>
<stop offset="0.8658" stop-color="#159cd2"/>
<stop offset="0.8828" stop-color="#18abbf"/>
<stop offset="0.8998" stop-color="#2daea9"/>
<stop offset="0.9168" stop-color="#47b294"/>
<stop offset="0.9338" stop-color="#58b58b"/>
<stop offset="0.9508" stop-color="#58b58b"/>
<stop offset="0.9678" stop-color="#58b58b"/>
<stop offset="0.9848" stop-color="#58b58b"/>
<stop offset="1.0000" stop-color="#58b58b"/>
</linearGradient>
<linearGradient id="g11" gradientUnits="userSpaceOnUse" x1="74.0" y1="0" x2="952.0" y2="0">
<stop offset="0.0159" stop-color="#396dba"/>
<stop offset="0.0329" stop-color="#396dba"/>
<stop offset="0.0499" stop-color="#3577c1"/>
<stop offset="0.0669" stop-color="#396ab8"/>
<stop offset="0.0839" stop-color="#3e3896"/>
<stop offset="0.1009" stop-color="#33287e"/>
<stop offset="0.1179" stop-color="#33287e"/>
<stop offset="0.1349" stop-color="#3a328c"/>
<stop offset="0.1519" stop-color="#3d5bac"/>
<stop offset="0.1689" stop-color="#3577c1"/>
<stop offset="0.1859" stop-color="#159cd2"/>
<stop offset="0.2029" stop-color="#5eb687"/>
<stop offset="0.2199" stop-color="#78bb76"/>
<stop offset="0.2369" stop-color="#11a6c9"/>
<stop offset="0.2539" stop-color="#2d87cc"/>
<stop offset="0.2709" stop-color="#2491d1"/>
<stop offset="0.2879" stop-color="#11a6c9"/>
<stop offset="0.3049" stop-color="#78bb76"/>
<stop offset="0.3219" stop-color="#b7bd5c"/>
<stop offset="0.3389" stop-color="#9bbe67"/>
<stop offset="0.3559" stop-color="#3180c7"/>
<stop offset="0.3729" stop-color="#396dba"/>
<stop offset="0.3899" stop-color="#3a65b4"/>
<stop offset="0.4069" stop-color="#396dba"/>
<stop offset="0.4239" stop-color="#2491d1"/>
<stop offset="0.4409" stop-color="#159cd2"/>
<stop offset="0.4579" stop-color="#159cd2"/>
<stop offset="0.4749" stop-color="#159cd2"/>
<stop offset="0.4919" stop-color="#2491d1"/>
<stop offset="0.5089" stop-color="#3478c2"/>
<stop offset="0.5259" stop-color="#396dba"/>
<stop offset="0.5429" stop-color="#396dba"/>
<stop offset="0.5599" stop-color="#3a65b4"/>
<stop offset="0.5769" stop-color="#3a65b4"/>
<stop offset="0.5938" stop-color="#3f56a8"/>
<stop offset="0.6108" stop-color="#3a65b4"/>
<stop offset="0.6278" stop-color="#3180c7"/>
<stop offset="0.6448" stop-color="#2491d1"/>
<stop offset="0.6618" stop-color="#11a6c9"/>
<stop offset="0.6788" stop-color="#3bb09a"/>
<stop offset="0.6958" stop-color="#58b58b"/>
<stop offset="0.7128" stop-color="#18abbf"/>
<stop offset="0.7298" stop-color="#159cd2"/>
<stop offset="0.7468" stop-color="#2d87cc"/>
<stop offset="0.7638" stop-color="#3478c2"/>
<stop offset="0.7808" stop-color="#3180c7"/>
<stop offset="0.7978" stop-color="#2491d1"/>
<stop offset="0.8148" stop-color="#159cd2"/>
<stop offset="0.8318" stop-color="#11a6c9"/>
<stop offset="0.8488" stop-color="#18abbf"/>
<stop offset="0.8658" stop-color="#3bb09a"/>
<stop offset="0.8828" stop-color="#58b58b"/>
<stop offset="0.8998" stop-color="#6bb97e"/>
<stop offset="0.9168" stop-color="#6bb97e"/>
<stop offset="0.9338" stop-color="#47b294"/>
<stop offset="0.9508" stop-color="#3bb09a"/>
<stop offset="0.9678" stop-color="#3bb09a"/>
<stop offset="0.9848" stop-color="#3bb09a"/>
<stop offset="1.0000" stop-color="#3bb09a"/>
</linearGradient>
<linearGradient id="g12" gradientUnits="userSpaceOnUse" x1="74.0" y1="0" x2="952.0" y2="0">
<stop offset="0.0159" stop-color="#3180c7"/>
<stop offset="0.0329" stop-color="#3180c7"/>
<stop offset="0.0499" stop-color="#3180c7"/>
<stop offset="0.0669" stop-color="#2f84c9"/>
<stop offset="0.0839" stop-color="#3f57a9"/>
<stop offset="0.1009" stop-color="#372e88"/>
<stop offset="0.1179" stop-color="#33287e"/>
<stop offset="0.1349" stop-color="#3a328c"/>
<stop offset="0.1519" stop-color="#3c5eaf"/>
<stop offset="0.1689" stop-color="#3577c1"/>
<stop offset="0.1859" stop-color="#159cd2"/>
<stop offset="0.2029" stop-color="#5eb687"/>
<stop offset="0.2199" stop-color="#78bb76"/>
<stop offset="0.2369" stop-color="#11a6c9"/>
<stop offset="0.2539" stop-color="#3674bf"/>
<stop offset="0.2709" stop-color="#3478c2"/>
<stop offset="0.2879" stop-color="#2b8ace"/>
<stop offset="0.3049" stop-color="#0ca3cf"/>
<stop offset="0.3219" stop-color="#3bb09a"/>
<stop offset="0.3389" stop-color="#0ca3cf"/>
<stop offset="0.3559" stop-color="#3180c7"/>
<stop offset="0.3729" stop-color="#3180c7"/>
<stop offset="0.3899" stop-color="#3180c7"/>
<stop offset="0.4069" stop-color="#3180c7"/>
<stop offset="0.4239" stop-color="#2d87cc"/>
<stop offset="0.4409" stop-color="#2b8ace"/>
<stop offset="0.4579" stop-color="#2b8ace"/>
<stop offset="0.4749" stop-color="#2d87cc"/>
<stop offset="0.4919" stop-color="#3478c2"/>
<stop offset="0.5089" stop-color="#3c5eaf"/>
<stop offset="0.5259" stop-color="#414ea2"/>
<stop offset="0.5429" stop-color="#3e3a97"/>
<stop offset="0.5599" stop-color="#342a81"/>
<stop offset="0.5769" stop-color="#33287e"/>
<stop offset="0.5938" stop-color="#342a81"/>
<stop offset="0.6108" stop-color="#3c5eaf"/>
<stop offset="0.6278" stop-color="#3478c2"/>
<stop offset="0.6448" stop-color="#2491d1"/>
<stop offset="0.6618" stop-color="#159cd2"/>
<stop offset="0.6788" stop-color="#11a6c9"/>
<stop offset="0.6958" stop-color="#18abbf"/>
<stop offset="0.7128" stop-color="#0ca3cf"/>
<stop offset="0.7298" stop-color="#159cd2"/>
<stop offset="0.7468" stop-color="#2b8ace"/>
<stop offset="0.7638" stop-color="#3180c7"/>
<stop offset="0.7808" stop-color="#2d87cc"/>
<stop offset="0.7978" stop-color="#2491d1"/>
<stop offset="0.8148" stop-color="#0ca3cf"/>
<stop offset="0.8318" stop-color="#58b58b"/>
<stop offset="0.8488" stop-color="#9bbe67"/>
<stop offset="0.8658" stop-color="#a1be65"/>
<stop offset="0.8828" stop-color="#9bbe67"/>
<stop offset="0.8998" stop-color="#86bc70"/>
<stop offset="0.9168" stop-color="#78bb76"/>
<stop offset="0.9338" stop-color="#58b58b"/>
<stop offset="0.9508" stop-color="#58b58b"/>
<stop offset="0.9678" stop-color="#58b58b"/>
<stop offset="0.9848" stop-color="#58b58b"/>
<stop offset="1.0000" stop-color="#58b58b"/>
</linearGradient>
<linearGradient id="g13" gradientUnits="userSpaceOnUse" x1="74.0" y1="0" x2="952.0" y2="0">
<stop offset="0.0159" stop-color="#2491d1"/>
<stop offset="0.0329" stop-color="#2491d1"/>
<stop offset="0.0499" stop-color="#2491d1"/>
<stop offset="0.0669" stop-color="#2491d1"/>
<stop offset="0.0839" stop-color="#2f84c9"/>
<stop offset="0.1009" stop-color="#40469e"/>
<stop offset="0.1179" stop-color="#372e88"/>
<stop offset="0.1349" stop-color="#3e3896"/>
<stop offset="0.1519" stop-color="#3a65b4"/>
<stop offset="0.1689" stop-color="#3082c8"/>
<stop offset="0.1859" stop-color="#0ca3cf"/>
<stop offset="0.2029" stop-color="#5eb687"/>
<stop offset="0.2199" stop-color="#7fbc73"/>
<stop offset="0.2369" stop-color="#18abbf"/>
<stop offset="0.2539" stop-color="#3180c7"/>
<stop offset="0.2709" stop-color="#3a68b6"/>
<stop offset="0.2879" stop-color="#396dba"/>
<stop offset="0.3049" stop-color="#3674bf"/>
<stop offset="0.3219" stop-color="#3180c7"/>
<stop offset="0.3389" stop-color="#3180c7"/>
<stop offset="0.3559" stop-color="#3c5eaf"/>
<stop offset="0.3729" stop-color="#342a81"/>
<stop offset="0.3899" stop-color="#33287e"/>
<stop offset="0.4069" stop-color="#3e3a97"/>
<stop offset="0.4239" stop-color="#3f56a8"/>
<stop offset="0.4409" stop-color="#3f56a8"/>
<stop offset="0.4579" stop-color="#414ea2"/>
<stop offset="0.4749" stop-color="#40449c"/>
<stop offset="0.4919" stop-color="#3b338f"/>
<stop offset="0.5089" stop-color="#342a81"/>
<stop offset="0.5259" stop-color="#33287e"/>
<stop offset="0.5429" stop-color="#33287e"/>
<stop offset="0.5599" stop-color="#33287e"/>
<stop offset="0.5769" stop-color="#33287e"/>
<stop offset="0.5938" stop-color="#40449c"/>
<stop offset="0.6108" stop-color="#396ab8"/>
<stop offset="0.6278" stop-color="#3478c2"/>
<stop offset="0.6448" stop-color="#2491d1"/>
<stop offset="0.6618" stop-color="#159cd2"/>
<stop offset="0.6788" stop-color="#159cd2"/>
<stop offset="0.6958" stop-color="#159cd2"/>
<stop offset="0.7128" stop-color="#2491d1"/>
<stop offset="0.7298" stop-color="#2d87cc"/>
<stop offset="0.7468" stop-color="#3478c2"/>
<stop offset="0.7638" stop-color="#3478c2"/>
<stop offset="0.7808" stop-color="#3180c7"/>
<stop offset="0.7978" stop-color="#2491d1"/>
<stop offset="0.8148" stop-color="#11a6c9"/>
<stop offset="0.8318" stop-color="#78bb76"/>
<stop offset="0.8488" stop-color="#b7bd5c"/>
<stop offset="0.8658" stop-color="#c3bc56"/>
<stop offset="0.8828" stop-color="#acbd60"/>
<stop offset="0.8998" stop-color="#86bc70"/>
<stop offset="0.9168" stop-color="#78bb76"/>
<stop offset="0.9338" stop-color="#58b58b"/>
<stop offset="0.9508" stop-color="#58b58b"/>
<stop offset="0.9678" stop-color="#58b58b"/>
<stop offset="0.9848" stop-color="#58b58b"/>
<stop offset="1.0000" stop-color="#58b58b"/>
</linearGradient>
<linearGradient id="g14" gradientUnits="userSpaceOnUse" x1="74.0" y1="0" x2="952.0" y2="0">
<stop offset="0.0159" stop-color="#2491d1"/>
<stop offset="0.0329" stop-color="#2491d1"/>
<stop offset="0.0499" stop-color="#2491d1"/>
<stop offset="0.0669" stop-color="#2491d1"/>
<stop offset="0.0839" stop-color="#2c88cc"/>
<stop offset="0.1009" stop-color="#3c5eaf"/>
<stop offset="0.1179" stop-color="#3f3d99"/>
<stop offset="0.1349" stop-color="#4150a3"/>
<stop offset="0.1519" stop-color="#396ab8"/>
<stop offset="0.1689" stop-color="#2e86cb"/>
<stop offset="0.1859" stop-color="#0ca3cf"/>
<stop offset="0.2029" stop-color="#5eb687"/>
<stop offset="0.2199" stop-color="#7fbc73"/>
<stop offset="0.2369" stop-color="#18abbf"/>
<stop offset="0.2539" stop-color="#3180c7"/>
<stop offset="0.2709" stop-color="#3c5eaf"/>
<stop offset="0.2879" stop-color="#3c5eaf"/>
<stop offset="0.3049" stop-color="#396dba"/>
<stop offset="0.3219" stop-color="#3674bf"/>
<stop offset="0.3389" stop-color="#396dba"/>
<stop offset="0.3559" stop-color="#414ea2"/>
<stop offset="0.3729" stop-color="#342a81"/>
<stop offset="0.3899" stop-color="#33287e"/>
<stop offset="0.4069" stop-color="#3b338f"/>
<stop offset="0.4239" stop-color="#40449c"/>
<stop offset="0.4409" stop-color="#40449c"/>
<stop offset="0.4579" stop-color="#3f3f9a"/>
<stop offset="0.4749" stop-color="#372e88"/>
<stop offset="0.4919" stop-color="#33287e"/>
<stop offset="0.5089" stop-color="#33287e"/>
<stop offset="0.5259" stop-color="#33287e"/>
<stop offset="0.5429" stop-color="#342a81"/>
<stop offset="0.5599" stop-color="#40499f"/>
<stop offset="0.5769" stop-color="#396ab8"/>
<stop offset="0.5938" stop-color="#3478c2"/>
<stop offset="0.6108" stop-color="#3180c7"/>
<stop offset="0.6278" stop-color="#2d87cc"/>
<stop offset="0.6448" stop-color="#2491d1"/>
<stop offset="0.6618" stop-color="#2491d1"/>
<stop offset="0.6788" stop-color="#2491d1"/>
<stop offset="0.6958" stop-color="#3180c7"/>
<stop offset="0.7128" stop-color="#396dba"/>
<stop offset="0.7298" stop-color="#3a65b4"/>
<stop offset="0.7468" stop-color="#3f56a8"/>
<stop offset="0.7638" stop-color="#3a65b4"/>
<stop offset="0.7808" stop-color="#3478c2"/>
<stop offset="0.7978" stop-color="#2491d1"/>
<stop offset="0.8148" stop-color="#18abbf"/>
<stop offset="0.8318" stop-color="#78bb76"/>
<stop offset="0.8488" stop-color="#a1be65"/>
<stop offset="0.8658" stop-color="#9bbe67"/>
<stop offset="0.8828" stop-color="#86bc70"/>
<stop offset="0.8998" stop-color="#78bb76"/>
<stop offset="0.9168" stop-color="#6bb97e"/>
<stop offset="0.9338" stop-color="#47b294"/>
<stop offset="0.9508" stop-color="#47b294"/>
<stop offset="0.9678" stop-color="#47b294"/>
<stop offset="0.9848" stop-color="#47b294"/>
<stop offset="1.0000" stop-color="#47b294"/>
</linearGradient>
<linearGradient id="g15" gradientUnits="userSpaceOnUse" x1="74.0" y1="0" x2="952.0" y2="0">
<stop offset="0.0159" stop-color="#3180c7"/>
<stop offset="0.0329" stop-color="#3180c7"/>
<stop offset="0.0499" stop-color="#3180c7"/>
<stop offset="0.0669" stop-color="#3180c7"/>
<stop offset="0.0839" stop-color="#2e86cb"/>
<stop offset="0.1009" stop-color="#3870bc"/>
<stop offset="0.1179" stop-color="#3c5eaf"/>
<stop offset="0.1349" stop-color="#3c5eaf"/>
<stop offset="0.1519" stop-color="#3870bc"/>
<stop offset="0.1689" stop-color="#2e86cb"/>
<stop offset="0.1859" stop-color="#18abbf"/>
<stop offset="0.2029" stop-color="#6bb97e"/>
<stop offset="0.2199" stop-color="#86bc70"/>
<stop offset="0.2369" stop-color="#2daea9"/>
<stop offset="0.2539" stop-color="#2b8ace"/>
<stop offset="0.2709" stop-color="#3a68b6"/>
<stop offset="0.2879" stop-color="#3c5eaf"/>
<stop offset="0.3049" stop-color="#3c5eaf"/>
<stop offset="0.3219" stop-color="#3c5eaf"/>
<stop offset="0.3389" stop-color="#3f3f9a"/>
<stop offset="0.3559" stop-color="#342a81"/>
<stop offset="0.3729" stop-color="#33287e"/>
<stop offset="0.3899" stop-color="#3b338f"/>
<stop offset="0.4069" stop-color="#40499f"/>
<stop offset="0.4239" stop-color="#4053a5"/>
<stop offset="0.4409" stop-color="#414ea2"/>
<stop offset="0.4579" stop-color="#3b338f"/>
<stop offset="0.4749" stop-color="#342a81"/>
<stop offset="0.4919" stop-color="#33287e"/>
<stop offset="0.5089" stop-color="#33287e"/>
<stop offset="0.5259" stop-color="#342a81"/>
<stop offset="0.5429" stop-color="#40499f"/>
<stop offset="0.5599" stop-color="#396ab8"/>
<stop offset="0.5769" stop-color="#3478c2"/>
<stop offset="0.5938" stop-color="#3180c7"/>
<stop offset="0.6108" stop-color="#2b8ace"/>
<stop offset="0.6278" stop-color="#1e95d2"/>
<stop offset="0.6448" stop-color="#159cd2"/>
<stop offset="0.6618" stop-color="#2491d1"/>
<stop offset="0.6788" stop-color="#2d87cc"/>
<stop offset="0.6958" stop-color="#396dba"/>
<stop offset="0.7128" stop-color="#40499f"/>
<stop offset="0.7298" stop-color="#372e88"/>
<stop offset="0.7468" stop-color="#372e88"/>
<stop offset="0.7638" stop-color="#40499f"/>
<stop offset="0.7808" stop-color="#3478c2"/>
<stop offset="0.7978" stop-color="#2491d1"/>
<stop offset="0.8148" stop-color="#0ca3cf"/>
<stop offset="0.8318" stop-color="#3bb09a"/>
<stop offset="0.8488" stop-color="#47b294"/>
<stop offset="0.8658" stop-color="#3bb09a"/>
<stop offset="0.8828" stop-color="#2daea9"/>
<stop offset="0.8998" stop-color="#18abbf"/>
<stop offset="0.9168" stop-color="#18abbf"/>
<stop offset="0.9338" stop-color="#18abbf"/>
<stop offset="0.9508" stop-color="#18abbf"/>
<stop offset="0.9678" stop-color="#18abbf"/>
<stop offset="0.9848" stop-color="#18abbf"/>
<stop offset="1.0000" stop-color="#18abbf"/>
</linearGradient>
<linearGradient id="g16" gradientUnits="userSpaceOnUse" x1="74.0" y1="0" x2="952.0" y2="0">
<stop offset="0.0159" stop-color="#3478c2"/>
<stop offset="0.0329" stop-color="#3478c2"/>
<stop offset="0.0499" stop-color="#3478c2"/>
<stop offset="0.0669" stop-color="#3478c2"/>
<stop offset="0.0839" stop-color="#3478c2"/>
<stop offset="0.1009" stop-color="#396dba"/>
<stop offset="0.1179" stop-color="#3a65b4"/>
<stop offset="0.1349" stop-color="#3a65b4"/>
<stop offset="0.1519" stop-color="#396dba"/>
<stop offset="0.1689" stop-color="#2491d1"/>
<stop offset="0.1859" stop-color="#3bb09a"/>
<stop offset="0.2029" stop-color="#78bb76"/>
<stop offset="0.2199" stop-color="#86bc70"/>
<stop offset="0.2369" stop-color="#2daea9"/>
<stop offset="0.2539" stop-color="#159cd2"/>
<stop offset="0.2709" stop-color="#3478c2"/>
<stop offset="0.2879" stop-color="#3a65b4"/>
<stop offset="0.3049" stop-color="#40499f"/>
<stop offset="0.3219" stop-color="#3b338f"/>
<stop offset="0.3389" stop-color="#372e88"/>
<stop offset="0.3559" stop-color="#33287e"/>
<stop offset="0.3729" stop-color="#3e3a97"/>
<stop offset="0.3899" stop-color="#4053a5"/>
<stop offset="0.4069" stop-color="#3c5eaf"/>
<stop offset="0.4239" stop-color="#3c5eaf"/>
<stop offset="0.4409" stop-color="#4053a5"/>
<stop offset="0.4579" stop-color="#372e88"/>
<stop offset="0.4749" stop-color="#33287e"/>
<stop offset="0.4919" stop-color="#33287e"/>
<stop offset="0.5089" stop-color="#342a81"/>
<stop offset="0.5259" stop-color="#3e3a97"/>
<stop offset="0.5429" stop-color="#3c5eaf"/>
<stop offset="0.5599" stop-color="#3870bc"/>
<stop offset="0.5769" stop-color="#3180c7"/>
<stop offset="0.5938" stop-color="#2b8ace"/>
<stop offset="0.6108" stop-color="#1e95d2"/>
<stop offset="0.6278" stop-color="#159cd2"/>
<stop offset="0.6448" stop-color="#159cd2"/>
<stop offset="0.6618" stop-color="#2d87cc"/>
<stop offset="0.6788" stop-color="#3478c2"/>
<stop offset="0.6958" stop-color="#396dba"/>
<stop offset="0.7128" stop-color="#40499f"/>
<stop offset="0.7298" stop-color="#342a81"/>
<stop offset="0.7468" stop-color="#372e88"/>
<stop offset="0.7638" stop-color="#40499f"/>
<stop offset="0.7808" stop-color="#396dba"/>
<stop offset="0.7978" stop-color="#2d87cc"/>
<stop offset="0.8148" stop-color="#159cd2"/>
<stop offset="0.8318" stop-color="#159cd2"/>
<stop offset="0.8488" stop-color="#159cd2"/>
<stop offset="0.8658" stop-color="#159cd2"/>
<stop offset="0.8828" stop-color="#159cd2"/>
<stop offset="0.8998" stop-color="#159cd2"/>
<stop offset="0.9168" stop-color="#159cd2"/>
<stop offset="0.9338" stop-color="#159cd2"/>
<stop offset="0.9508" stop-color="#159cd2"/>
<stop offset="0.9678" stop-color="#159cd2"/>
<stop offset="0.9848" stop-color="#159cd2"/>
<stop offset="1.0000" stop-color="#159cd2"/>
</linearGradient>
<linearGradient id="g17" gradientUnits="userSpaceOnUse" x1="74.0" y1="0" x2="952.0" y2="0">
<stop offset="0.0159" stop-color="#396dba"/>
<stop offset="0.0329" stop-color="#396dba"/>
<stop offset="0.0499" stop-color="#396dba"/>
<stop offset="0.0669" stop-color="#396dba"/>
<stop offset="0.0839" stop-color="#396dba"/>
<stop offset="0.1009" stop-color="#3a65b4"/>
<stop offset="0.1179" stop-color="#3a65b4"/>
<stop offset="0.1349" stop-color="#396dba"/>
<stop offset="0.1519" stop-color="#3180c7"/>
<stop offset="0.1689" stop-color="#159cd2"/>
<stop offset="0.1859" stop-color="#3bb09a"/>
<stop offset="0.2029" stop-color="#78bb76"/>
<stop offset="0.2199" stop-color="#86bc70"/>
<stop offset="0.2369" stop-color="#2daea9"/>
<stop offset="0.2539" stop-color="#159cd2"/>
<stop offset="0.2709" stop-color="#3478c2"/>
<stop offset="0.2879" stop-color="#40499f"/>
<stop offset="0.3049" stop-color="#342a81"/>
<stop offset="0.3219" stop-color="#342a81"/>
<stop offset="0.3389" stop-color="#372e88"/>
<stop offset="0.3559" stop-color="#3b338f"/>
<stop offset="0.3729" stop-color="#3c5eaf"/>
<stop offset="0.3899" stop-color="#3a65b4"/>
<stop offset="0.4069" stop-color="#3c5eaf"/>
<stop offset="0.4239" stop-color="#3f56a8"/>
<stop offset="0.4409" stop-color="#40499f"/>
<stop offset="0.4579" stop-color="#372e88"/>
<stop offset="0.4749" stop-color="#342a81"/>
<stop offset="0.4919" stop-color="#3e3a97"/>
<stop offset="0.5089" stop-color="#3f56a8"/>
<stop offset="0.5259" stop-color="#3a65b4"/>
<stop offset="0.5429" stop-color="#396dba"/>
<stop offset="0.5599" stop-color="#3478c2"/>
<stop offset="0.5769" stop-color="#3180c7"/>
<stop offset="0.5938" stop-color="#2491d1"/>
<stop offset="0.6108" stop-color="#159cd2"/>
<stop offset="0.6278" stop-color="#159cd2"/>
<stop offset="0.6448" stop-color="#2491d1"/>
<stop offset="0.6618" stop-color="#3180c7"/>
<stop offset="0.6788" stop-color="#396dba"/>
<stop offset="0.6958" stop-color="#396dba"/>
<stop offset="0.7128" stop-color="#3c5eaf"/>
<stop offset="0.7298" stop-color="#3f56a8"/>
<stop offset="0.7468" stop-color="#3f56a8"/>
<stop offset="0.7638" stop-color="#3c5eaf"/>
<stop offset="0.7808" stop-color="#396dba"/>
<stop offset="0.7978" stop-color="#3180c7"/>
<stop offset="0.8148" stop-color="#2d87cc"/>
<stop offset="0.8318" stop-color="#2d87cc"/>
<stop offset="0.8488" stop-color="#3180c7"/>
<stop offset="0.8658" stop-color="#3478c2"/>
<stop offset="0.8828" stop-color="#3478c2"/>
<stop offset="0.8998" stop-color="#3180c7"/>
<stop offset="0.9168" stop-color="#3180c7"/>
<stop offset="0.9338" stop-color="#3180c7"/>
<stop offset="0.9508" stop-color="#3180c7"/>
<stop offset="0.9678" stop-color="#3180c7"/>
<stop offset="0.9848" stop-color="#3180c7"/>
<stop offset="1.0000" stop-color="#3180c7"/>
</linearGradient>
<linearGradient id="g18" gradientUnits="userSpaceOnUse" x1="74.0" y1="0" x2="952.0" y2="0">
<stop offset="0.0159" stop-color="#3a65b4"/>
<stop offset="0.0329" stop-color="#3a65b4"/>
<stop offset="0.0499" stop-color="#3a65b4"/>
<stop offset="0.0669" stop-color="#3a65b4"/>
<stop offset="0.0839" stop-color="#3a65b4"/>
<stop offset="0.1009" stop-color="#3a65b4"/>
<stop offset="0.1179" stop-color="#3a65b4"/>
<stop offset="0.1349" stop-color="#396dba"/>
<stop offset="0.1519" stop-color="#3180c7"/>
<stop offset="0.1689" stop-color="#159cd2"/>
<stop offset="0.1859" stop-color="#58b58b"/>
<stop offset="0.2029" stop-color="#86bc70"/>
<stop offset="0.2199" stop-color="#86bc70"/>
<stop offset="0.2369" stop-color="#2daea9"/>
<stop offset="0.2539" stop-color="#159cd2"/>
<stop offset="0.2709" stop-color="#3180c7"/>
<stop offset="0.2879" stop-color="#3c5eaf"/>
<stop offset="0.3049" stop-color="#3b338f"/>
<stop offset="0.3219" stop-color="#3b338f"/>
<stop offset="0.3389" stop-color="#40499f"/>
<stop offset="0.3559" stop-color="#3a65b4"/>
<stop offset="0.3729" stop-color="#3a65b4"/>
<stop offset="0.3899" stop-color="#3a65b4"/>
<stop offset="0.4069" stop-color="#3a65b4"/>
<stop offset="0.4239" stop-color="#3a65b4"/>
<stop offset="0.4409" stop-color="#3c5eaf"/>
<stop offset="0.4579" stop-color="#3f56a8"/>
<stop offset="0.4749" stop-color="#3c5eaf"/>
<stop offset="0.4919" stop-color="#3a65b4"/>
<stop offset="0.5089" stop-color="#3a65b4"/>
<stop offset="0.5259" stop-color="#396dba"/>
<stop offset="0.5429" stop-color="#396dba"/>
<stop offset="0.5599" stop-color="#3478c2"/>
<stop offset="0.5769" stop-color="#3180c7"/>
<stop offset="0.5938" stop-color="#3478c2"/>
<stop offset="0.6108" stop-color="#3478c2"/>
<stop offset="0.6278" stop-color="#3478c2"/>
<stop offset="0.6448" stop-color="#396dba"/>
<stop offset="0.6618" stop-color="#396dba"/>
<stop offset="0.6788" stop-color="#396dba"/>
<stop offset="0.6958" stop-color="#3a65b4"/>
<stop offset="0.7128" stop-color="#3a65b4"/>
<stop offset="0.7298" stop-color="#3a65b4"/>
<stop offset="0.7468" stop-color="#396dba"/>
<stop offset="0.7638" stop-color="#396dba"/>
<stop offset="0.7808" stop-color="#396dba"/>
<stop offset="0.7978" stop-color="#396dba"/>
<stop offset="0.8148" stop-color="#396dba"/>
<stop offset="0.8318" stop-color="#396dba"/>
<stop offset="0.8488" stop-color="#396dba"/>
<stop offset="0.8658" stop-color="#396dba"/>
<stop offset="0.8828" stop-color="#396dba"/>
<stop offset="0.8998" stop-color="#396dba"/>
<stop offset="0.9168" stop-color="#3478c2"/>
<stop offset="0.9338" stop-color="#3478c2"/>
<stop offset="0.9508" stop-color="#3478c2"/>
<stop offset="0.9678" stop-color="#3478c2"/>
<stop offset="0.9848" stop-color="#3478c2"/>
<stop offset="1.0000" stop-color="#3478c2"/>
</linearGradient>
<linearGradient id="g19" gradientUnits="userSpaceOnUse" x1="74.0" y1="0" x2="952.0" y2="0">
<stop offset="0.0159" stop-color="#3f56a8"/>
<stop offset="0.0329" stop-color="#3f56a8"/>
<stop offset="0.0499" stop-color="#3f56a8"/>
<stop offset="0.0669" stop-color="#3f56a8"/>
<stop offset="0.0839" stop-color="#3f56a8"/>
<stop offset="0.1009" stop-color="#3f56a8"/>
<stop offset="0.1179" stop-color="#3a65b4"/>
<stop offset="0.1349" stop-color="#396dba"/>
<stop offset="0.1519" stop-color="#2d87cc"/>
<stop offset="0.1689" stop-color="#0ca3cf"/>
<stop offset="0.1859" stop-color="#58b58b"/>
<stop offset="0.2029" stop-color="#86bc70"/>
<stop offset="0.2199" stop-color="#78bb76"/>
<stop offset="0.2369" stop-color="#2daea9"/>
<stop offset="0.2539" stop-color="#0ca3cf"/>
<stop offset="0.2709" stop-color="#2d87cc"/>
<stop offset="0.2879" stop-color="#396dba"/>
<stop offset="0.3049" stop-color="#396dba"/>
<stop offset="0.3219" stop-color="#396dba"/>
<stop offset="0.3389" stop-color="#3478c2"/>
<stop offset="0.3559" stop-color="#396dba"/>
<stop offset="0.3729" stop-color="#3478c2"/>
<stop offset="0.3899" stop-color="#3180c7"/>
<stop offset="0.4069" stop-color="#3478c2"/>
<stop offset="0.4239" stop-color="#396dba"/>
<stop offset="0.4409" stop-color="#396dba"/>
<stop offset="0.4579" stop-color="#396dba"/>
<stop offset="0.4749" stop-color="#396dba"/>
<stop offset="0.4919" stop-color="#396dba"/>
<stop offset="0.5089" stop-color="#3478c2"/>
<stop offset="0.5259" stop-color="#3180c7"/>
<stop offset="0.5429" stop-color="#3180c7"/>
<stop offset="0.5599" stop-color="#3478c2"/>
<stop offset="0.5769" stop-color="#3478c2"/>
<stop offset="0.5938" stop-color="#396dba"/>
<stop offset="0.6108" stop-color="#396dba"/>
<stop offset="0.6278" stop-color="#3a65b4"/>
<stop offset="0.6448" stop-color="#3f56a8"/>
<stop offset="0.6618" stop-color="#40499f"/>
<stop offset="0.6788" stop-color="#3b338f"/>
<stop offset="0.6958" stop-color="#40499f"/>
<stop offset="0.7128" stop-color="#3f56a8"/>
<stop offset="0.7298" stop-color="#3a65b4"/>
<stop offset="0.7468" stop-color="#3a65b4"/>
<stop offset="0.7638" stop-color="#396dba"/>
<stop offset="0.7808" stop-color="#396dba"/>
<stop offset="0.7978" stop-color="#396dba"/>
<stop offset="0.8148" stop-color="#396dba"/>
<stop offset="0.8318" stop-color="#396dba"/>
<stop offset="0.8488" stop-color="#396dba"/>
<stop offset="0.8658" stop-color="#396dba"/>
<stop offset="0.8828" stop-color="#396dba"/>
<stop offset="0.8998" stop-color="#3478c2"/>
<stop offset="0.9168" stop-color="#3180c7"/>
<stop offset="0.9338" stop-color="#3180c7"/>
<stop offset="0.9508" stop-color="#3180c7"/>
<stop offset="0.9678" stop-color="#3180c7"/>
<stop offset="0.9848" stop-color="#3180c7"/>
<stop offset="1.0000" stop-color="#3180c7"/>
</linearGradient>
<linearGradient id="g20" gradientUnits="userSpaceOnUse" x1="74.0" y1="0" x2="952.0" y2="0">
<stop offset="0.0158" stop-color="#40499f"/>
<stop offset="0.0498" stop-color="#40499f"/>
<stop offset="0.0838" stop-color="#40499f"/>
<stop offset="0.1178" stop-color="#3478c2"/>
<stop offset="0.1518" stop-color="#2491d1"/>
<stop offset="0.1858" stop-color="#6bb97e"/>
<stop offset="0.2198" stop-color="#86bc70"/>
<stop offset="0.2538" stop-color="#6bb97e"/>
<stop offset="0.2878" stop-color="#0ca3cf"/>
<stop offset="0.3218" stop-color="#159cd2"/>
<stop offset="0.3558" stop-color="#2491d1"/>
<stop offset="0.3898" stop-color="#159cd2"/>
<stop offset="0.4238" stop-color="#159cd2"/>
<stop offset="0.4578" stop-color="#159cd2"/>
<stop offset="0.4918" stop-color="#159cd2"/>
<stop offset="0.5258" stop-color="#159cd2"/>
<stop offset="0.5598" stop-color="#2491d1"/>
<stop offset="0.5938" stop-color="#2d87cc"/>
<stop offset="0.6278" stop-color="#396dba"/>
<stop offset="0.6618" stop-color="#342a81"/>
<stop offset="0.6958" stop-color="#33287e"/>
<stop offset="0.7298" stop-color="#3f56a8"/>
<stop offset="0.7638" stop-color="#3a65b4"/>
<stop offset="0.7978" stop-color="#3478c2"/>
<stop offset="0.8318" stop-color="#3180c7"/>
<stop offset="0.8658" stop-color="#2d87cc"/>
<stop offset="0.8998" stop-color="#2491d1"/>
<stop offset="0.9338" stop-color="#2491d1"/>
<stop offset="0.9678" stop-color="#396dba"/>
<stop offset="1.0000" stop-color="#396dba"/>
</linearGradient>
<linearGradient id="g21" gradientUnits="userSpaceOnUse" x1="74.0" y1="0" x2="952.0" y2="0">
<stop offset="0.0158" stop-color="#3180c7"/>
<stop offset="0.0498" stop-color="#3180c7"/>
<stop offset="0.0838" stop-color="#3180c7"/>
<stop offset="0.1178" stop-color="#3180c7"/>
<stop offset="0.1518" stop-color="#0ca3cf"/>
<stop offset="0.1858" stop-color="#94bd6a"/>
<stop offset="0.2198" stop-color="#b7bd5c"/>
<stop offset="0.2538" stop-color="#9bbe67"/>
<stop offset="0.2878" stop-color="#2daea9"/>
<stop offset="0.3218" stop-color="#2daea9"/>
<stop offset="0.3558" stop-color="#3bb09a"/>
<stop offset="0.3898" stop-color="#3bb09a"/>
<stop offset="0.4238" stop-color="#2daea9"/>
<stop offset="0.4578" stop-color="#18abbf"/>
<stop offset="0.4918" stop-color="#18abbf"/>
<stop offset="0.5258" stop-color="#11a6c9"/>
<stop offset="0.5598" stop-color="#0ca3cf"/>
<stop offset="0.5938" stop-color="#159cd2"/>
<stop offset="0.6278" stop-color="#2d87cc"/>
<stop offset="0.6618" stop-color="#3e3a97"/>
<stop offset="0.6958" stop-color="#33287e"/>
<stop offset="0.7298" stop-color="#342a81"/>
<stop offset="0.7638" stop-color="#40499f"/>
<stop offset="0.7978" stop-color="#396dba"/>
<stop offset="0.8318" stop-color="#3180c7"/>
<stop offset="0.8658" stop-color="#2491d1"/>
<stop offset="0.8998" stop-color="#159cd2"/>
<stop offset="0.9338" stop-color="#159cd2"/>
<stop offset="0.9678" stop-color="#396dba"/>
<stop offset="1.0000" stop-color="#396dba"/>
</linearGradient>
<linearGradient id="g22" gradientUnits="userSpaceOnUse" x1="74.0" y1="0" x2="952.0" y2="0">
<stop offset="0.0158" stop-color="#2491d1"/>
<stop offset="0.0498" stop-color="#2491d1"/>
<stop offset="0.0838" stop-color="#2491d1"/>
<stop offset="0.1178" stop-color="#2491d1"/>
<stop offset="0.1518" stop-color="#18abbf"/>
<stop offset="0.1858" stop-color="#b7bd5c"/>
<stop offset="0.2198" stop-color="#c8bc54"/>
<stop offset="0.2538" stop-color="#c3bc56"/>
<stop offset="0.2878" stop-color="#acbd60"/>
<stop offset="0.3218" stop-color="#acbd60"/>
<stop offset="0.3558" stop-color="#c3bc56"/>
<stop offset="0.3898" stop-color="#9bbe67"/>
<stop offset="0.4238" stop-color="#78bb76"/>
<stop offset="0.4578" stop-color="#58b58b"/>
<stop offset="0.4918" stop-color="#3bb09a"/>
<stop offset="0.5258" stop-color="#2daea9"/>
<stop offset="0.5598" stop-color="#18abbf"/>
<stop offset="0.5938" stop-color="#0ca3cf"/>
<stop offset="0.6278" stop-color="#159cd2"/>
<stop offset="0.6618" stop-color="#3180c7"/>
<stop offset="0.6958" stop-color="#3e3a97"/>
<stop offset="0.7298" stop-color="#33287e"/>
<stop offset="0.7638" stop-color="#372e88"/>
<stop offset="0.7978" stop-color="#3c5eaf"/>
<stop offset="0.8318" stop-color="#3478c2"/>
<stop offset="0.8658" stop-color="#2491d1"/>
<stop offset="0.8998" stop-color="#159cd2"/>
<stop offset="0.9338" stop-color="#159cd2"/>
<stop offset="0.9678" stop-color="#3a65b4"/>
<stop offset="1.0000" stop-color="#3a65b4"/>
</linearGradient>
<linearGradient id="g23" gradientUnits="userSpaceOnUse" x1="74.0" y1="0" x2="952.0" y2="0">
<stop offset="0.0158" stop-color="#159cd2"/>
<stop offset="0.0498" stop-color="#159cd2"/>
<stop offset="0.0838" stop-color="#159cd2"/>
<stop offset="0.1178" stop-color="#159cd2"/>
<stop offset="0.1518" stop-color="#58b58b"/>
<stop offset="0.1858" stop-color="#c3bc56"/>
<stop offset="0.2198" stop-color="#c8bc54"/>
<stop offset="0.2538" stop-color="#c3bc56"/>
<stop offset="0.2878" stop-color="#d4bb4e"/>
<stop offset="0.3218" stop-color="#e9b946"/>
<stop offset="0.3558" stop-color="#efba40"/>
<stop offset="0.3898" stop-color="#e1ba49"/>
<stop offset="0.4238" stop-color="#d4bb4e"/>
<stop offset="0.4578" stop-color="#c3bc56"/>
<stop offset="0.4918" stop-color="#9bbe67"/>
<stop offset="0.5258" stop-color="#78bb76"/>
<stop offset="0.5598" stop-color="#58b58b"/>
<stop offset="0.5938" stop-color="#3bb09a"/>
<stop offset="0.6278" stop-color="#18abbf"/>
<stop offset="0.6618" stop-color="#159cd2"/>
<stop offset="0.6958" stop-color="#3a65b4"/>
<stop offset="0.7298" stop-color="#372e88"/>
<stop offset="0.7638" stop-color="#33287e"/>
<stop offset="0.7978" stop-color="#40499f"/>
<stop offset="0.8318" stop-color="#3a65b4"/>
<stop offset="0.8658" stop-color="#3180c7"/>
<stop offset="0.8998" stop-color="#2b8ace"/>
<stop offset="0.9338" stop-color="#2b8ace"/>
<stop offset="0.9678" stop-color="#3f56a8"/>
<stop offset="1.0000" stop-color="#3f56a8"/>
</linearGradient>
<linearGradient id="g24" gradientUnits="userSpaceOnUse" x1="74.0" y1="0" x2="952.0" y2="0">
<stop offset="0.0158" stop-color="#159cd2"/>
<stop offset="0.0498" stop-color="#159cd2"/>
<stop offset="0.0838" stop-color="#159cd2"/>
<stop offset="0.1178" stop-color="#159cd2"/>
<stop offset="0.1518" stop-color="#58b58b"/>
<stop offset="0.1858" stop-color="#acbd60"/>
<stop offset="0.2198" stop-color="#b1bd5e"/>
<stop offset="0.2538" stop-color="#c3bc56"/>
<stop offset="0.2878" stop-color="#e9b946"/>
<stop offset="0.3218" stop-color="#f8bc36"/>
<stop offset="0.3558" stop-color="#fac329"/>
<stop offset="0.3898" stop-color="#fcc820"/>
<stop offset="0.4238" stop-color="#fcc820"/>
<stop offset="0.4578" stop-color="#efba40"/>
<stop offset="0.4918" stop-color="#d4bb4e"/>
<stop offset="0.5258" stop-color="#acbd60"/>
<stop offset="0.5598" stop-color="#9bbe67"/>
<stop offset="0.5938" stop-color="#6bb97e"/>
<stop offset="0.6278" stop-color="#47b294"/>
<stop offset="0.6618" stop-color="#18abbf"/>
<stop offset="0.6958" stop-color="#2d87cc"/>
<stop offset="0.7298" stop-color="#3a65b4"/>
<stop offset="0.7638" stop-color="#3b338f"/>
<stop offset="0.7978" stop-color="#3b338f"/>
<stop offset="0.8318" stop-color="#40499f"/>
<stop offset="0.8658" stop-color="#40499f"/>
<stop offset="0.8998" stop-color="#40499f"/>
<stop offset="0.9338" stop-color="#40499f"/>
<stop offset="0.9678" stop-color="#40499f"/>
<stop offset="1.0000" stop-color="#40499f"/>
</linearGradient>
<linearGradient id="g25" gradientUnits="userSpaceOnUse" x1="74.0" y1="0" x2="952.0" y2="0">
<stop offset="0.0158" stop-color="#159cd2"/>
<stop offset="0.0498" stop-color="#159cd2"/>
<stop offset="0.0838" stop-color="#159cd2"/>
<stop offset="0.1178" stop-color="#159cd2"/>
<stop offset="0.1518" stop-color="#18abbf"/>
<stop offset="0.1858" stop-color="#6bb97e"/>
<stop offset="0.2198" stop-color="#86bc70"/>
<stop offset="0.2538" stop-color="#b7bd5c"/>
<stop offset="0.2878" stop-color="#e9b946"/>
<stop offset="0.3218" stop-color="#fac12d"/>
<stop offset="0.3558" stop-color="#fbd213"/>
<stop offset="0.3898" stop-color="#f9e100"/>
<stop offset="0.4238" stop-color="#f9e000"/>
<stop offset="0.4578" stop-color="#fac329"/>
<stop offset="0.4918" stop-color="#e9b946"/>
<stop offset="0.5258" stop-color="#c3bc56"/>
<stop offset="0.5598" stop-color="#b7bd5c"/>
<stop offset="0.5938" stop-color="#9bbe67"/>
<stop offset="0.6278" stop-color="#6bb97e"/>
<stop offset="0.6618" stop-color="#47b294"/>
<stop offset="0.6958" stop-color="#11a6c9"/>
<stop offset="0.7298" stop-color="#3180c7"/>
<stop offset="0.7638" stop-color="#3a65b4"/>
<stop offset="0.7978" stop-color="#40499f"/>
<stop offset="0.8318" stop-color="#40499f"/>
<stop offset="0.8658" stop-color="#40499f"/>
<stop offset="0.8998" stop-color="#40499f"/>
<stop offset="0.9338" stop-color="#40499f"/>
<stop offset="0.9678" stop-color="#40499f"/>
<stop offset="1.0000" stop-color="#40499f"/>
</linearGradient>
<linearGradient id="g26" gradientUnits="userSpaceOnUse" x1="74.0" y1="0" x2="952.0" y2="0">
<stop offset="0.0158" stop-color="#159cd2"/>
<stop offset="0.0498" stop-color="#159cd2"/>
<stop offset="0.0838" stop-color="#159cd2"/>
<stop offset="0.1178" stop-color="#159cd2"/>
<stop offset="0.1518" stop-color="#159cd2"/>
<stop offset="0.1858" stop-color="#18abbf"/>
<stop offset="0.2198" stop-color="#52b48e"/>
<stop offset="0.2538" stop-color="#9bbe67"/>
<stop offset="0.2878" stop-color="#e1ba49"/>
<stop offset="0.3218" stop-color="#f8bc36"/>
<stop offset="0.3558" stop-color="#fcc820"/>
<stop offset="0.3898" stop-color="#f9e000"/>
<stop offset="0.4238" stop-color="#fad60d"/>
<stop offset="0.4578" stop-color="#fac12d"/>
<stop offset="0.4918" stop-color="#e9b946"/>
<stop offset="0.5258" stop-color="#c3bc56"/>
<stop offset="0.5598" stop-color="#b7bd5c"/>
<stop offset="0.5938" stop-color="#9bbe67"/>
<stop offset="0.6278" stop-color="#78bb76"/>
<stop offset="0.6618" stop-color="#58b58b"/>
<stop offset="0.6958" stop-color="#3bb09a"/>
<stop offset="0.7298" stop-color="#159cd2"/>
<stop offset="0.7638" stop-color="#3180c7"/>
<stop offset="0.7978" stop-color="#3a65b4"/>
<stop offset="0.8318" stop-color="#3b338f"/>
<stop offset="0.8658" stop-color="#3b338f"/>
<stop offset="0.8998" stop-color="#3b338f"/>
<stop offset="0.9338" stop-color="#3b338f"/>
<stop offset="0.9678" stop-color="#3b338f"/>
<stop offset="1.0000" stop-color="#3b338f"/>
</linearGradient>
<linearGradient id="g27" gradientUnits="userSpaceOnUse" x1="74.0" y1="0" x2="952.0" y2="0">
<stop offset="0.0158" stop-color="#3478c2"/>
<stop offset="0.0498" stop-color="#3478c2"/>
<stop offset="0.0838" stop-color="#3478c2"/>
<stop offset="0.1178" stop-color="#3478c2"/>
<stop offset="0.1518" stop-color="#3478c2"/>
<stop offset="0.1858" stop-color="#159cd2"/>
<stop offset="0.2198" stop-color="#2daea9"/>
<stop offset="0.2538" stop-color="#78bb76"/>
<stop offset="0.2878" stop-color="#d4bb4e"/>
<stop offset="0.3218" stop-color="#efba40"/>
<stop offset="0.3558" stop-color="#fbc624"/>
<stop offset="0.3898" stop-color="#fcc820"/>
<stop offset="0.4238" stop-color="#fac12d"/>
<stop offset="0.4578" stop-color="#f2bb3c"/>
<stop offset="0.4918" stop-color="#e9b946"/>
<stop offset="0.5258" stop-color="#c3bc56"/>
<stop offset="0.5598" stop-color="#acbd60"/>
<stop offset="0.5938" stop-color="#86bc70"/>
<stop offset="0.6278" stop-color="#78bb76"/>
<stop offset="0.6618" stop-color="#6bb97e"/>
<stop offset="0.6958" stop-color="#52b48e"/>
<stop offset="0.7298" stop-color="#18abbf"/>
<stop offset="0.7638" stop-color="#159cd2"/>
<stop offset="0.7978" stop-color="#3180c7"/>
<stop offset="0.8318" stop-color="#3c5eaf"/>
<stop offset="0.8658" stop-color="#3c5eaf"/>
<stop offset="0.8998" stop-color="#3c5eaf"/>
<stop offset="0.9338" stop-color="#3c5eaf"/>
<stop offset="0.9678" stop-color="#3c5eaf"/>
<stop offset="1.0000" stop-color="#3c5eaf"/>
</linearGradient>
<linearGradient id="g28" gradientUnits="userSpaceOnUse" x1="74.0" y1="0" x2="952.0" y2="0">
<stop offset="0.0158" stop-color="#396dba"/>
<stop offset="0.0498" stop-color="#396dba"/>
<stop offset="0.0838" stop-color="#396dba"/>
<stop offset="0.1178" stop-color="#396dba"/>
<stop offset="0.1518" stop-color="#396dba"/>
<stop offset="0.1858" stop-color="#1998d3"/>
<stop offset="0.2198" stop-color="#34afa1"/>
<stop offset="0.2538" stop-color="#78bb76"/>
<stop offset="0.2878" stop-color="#c3bc56"/>
<stop offset="0.3218" stop-color="#e9b946"/>
<stop offset="0.3558" stop-color="#efba40"/>
<stop offset="0.3898" stop-color="#f8bc36"/>
<stop offset="0.4238" stop-color="#f8bc36"/>
<stop offset="0.4578" stop-color="#efba40"/>
<stop offset="0.4918" stop-color="#e1ba49"/>
<stop offset="0.5258" stop-color="#c3bc56"/>
<stop offset="0.5598" stop-color="#a1be65"/>
<stop offset="0.5938" stop-color="#86bc70"/>
<stop offset="0.6278" stop-color="#78bb76"/>
<stop offset="0.6618" stop-color="#78bb76"/>
<stop offset="0.6958" stop-color="#78bb76"/>
<stop offset="0.7298" stop-color="#58b58b"/>
<stop offset="0.7638" stop-color="#18abbf"/>
<stop offset="0.7978" stop-color="#159cd2"/>
<stop offset="0.8318" stop-color="#3180c7"/>
<stop offset="0.8658" stop-color="#3180c7"/>
<stop offset="0.8998" stop-color="#3180c7"/>
<stop offset="0.9338" stop-color="#3180c7"/>
<stop offset="0.9678" stop-color="#3180c7"/>
<stop offset="1.0000" stop-color="#3180c7"/>
</linearGradient>
<linearGradient id="g29" gradientUnits="userSpaceOnUse" x1="74.0" y1="0" x2="952.0" y2="0">
<stop offset="0.0158" stop-color="#3180c7"/>
<stop offset="0.0498" stop-color="#3180c7"/>
<stop offset="0.0838" stop-color="#3180c7"/>
<stop offset="0.1178" stop-color="#3180c7"/>
<stop offset="0.1518" stop-color="#3180c7"/>
<stop offset="0.1858" stop-color="#2491d1"/>
<stop offset="0.2198" stop-color="#1facb8"/>
<stop offset="0.2538" stop-color="#78bb76"/>
<stop offset="0.2878" stop-color="#b7bd5c"/>
<stop offset="0.3218" stop-color="#e1ba49"/>
<stop offset="0.3558" stop-color="#e9b946"/>
<stop offset="0.3898" stop-color="#f2bb3c"/>
<stop offset="0.4238" stop-color="#f2bb3c"/>
<stop offset="0.4578" stop-color="#e9b946"/>
<stop offset="0.4918" stop-color="#d4bb4e"/>
<stop offset="0.5258" stop-color="#b7bd5c"/>
<stop offset="0.5598" stop-color="#9bbe67"/>
<stop offset="0.5938" stop-color="#86bc70"/>
<stop offset="0.6278" stop-color="#78bb76"/>
<stop offset="0.6618" stop-color="#78bb76"/>
<stop offset="0.6958" stop-color="#7fbc73"/>
<stop offset="0.7298" stop-color="#72ba7a"/>
<stop offset="0.7638" stop-color="#41b197"/>
<stop offset="0.7978" stop-color="#18abbf"/>
<stop offset="0.8318" stop-color="#109fd0"/>
<stop offset="0.8658" stop-color="#159cd2"/>
<stop offset="0.8998" stop-color="#159cd2"/>
<stop offset="0.9338" stop-color="#159cd2"/>
<stop offset="0.9678" stop-color="#159cd2"/>
<stop offset="1.0000" stop-color="#159cd2"/>
</linearGradient>
<linearGradient id="g30" gradientUnits="userSpaceOnUse" x1="74.0" y1="0" x2="952.0" y2="0">
<stop offset="0.0158" stop-color="#396dba"/>
<stop offset="0.0498" stop-color="#396dba"/>
<stop offset="0.0838" stop-color="#396dba"/>
<stop offset="0.1178" stop-color="#396dba"/>
<stop offset="0.1518" stop-color="#396dba"/>
<stop offset="0.1858" stop-color="#1998d3"/>
<stop offset="0.2198" stop-color="#13a8c5"/>
<stop offset="0.2538" stop-color="#26adb0"/>
<stop offset="0.2878" stop-color="#58b58b"/>
<stop offset="0.3218" stop-color="#9bbe67"/>
<stop offset="0.3558" stop-color="#c3bc56"/>
<stop offset="0.3898" stop-color="#e1ba49"/>
<stop offset="0.4238" stop-color="#e9b946"/>
<stop offset="0.4578" stop-color="#e1ba49"/>
<stop offset="0.4918" stop-color="#d4bb4e"/>
<stop offset="0.5258" stop-color="#c3bc56"/>
<stop offset="0.5598" stop-color="#acbd60"/>
<stop offset="0.5938" stop-color="#86bc70"/>
<stop offset="0.6278" stop-color="#78bb76"/>
<stop offset="0.6618" stop-color="#78bb76"/>
<stop offset="0.6958" stop-color="#6bb97e"/>
<stop offset="0.7298" stop-color="#6bb97e"/>
<stop offset="0.7638" stop-color="#3bb09a"/>
<stop offset="0.7978" stop-color="#2daea9"/>
<stop offset="0.8318" stop-color="#18abbf"/>
<stop offset="0.8658" stop-color="#0ca3cf"/>
<stop offset="0.8998" stop-color="#0ca3cf"/>
<stop offset="0.9338" stop-color="#0ca3cf"/>
<stop offset="0.9678" stop-color="#0ca3cf"/>
<stop offset="1.0000" stop-color="#0ca3cf"/>
</linearGradient>
<linearGradient id="g31" gradientUnits="userSpaceOnUse" x1="74.0" y1="0" x2="952.0" y2="0">
<stop offset="0.0158" stop-color="#2491d1"/>
<stop offset="0.0498" stop-color="#2491d1"/>
<stop offset="0.0838" stop-color="#2491d1"/>
<stop offset="0.1178" stop-color="#2491d1"/>
<stop offset="0.1518" stop-color="#2491d1"/>
<stop offset="0.1858" stop-color="#0ca3cf"/>
<stop offset="0.2198" stop-color="#13a8c5"/>
<stop offset="0.2538" stop-color="#26adb0"/>
<stop offset="0.2878" stop-color="#3bb09a"/>
<stop offset="0.3218" stop-color="#78bb76"/>
<stop offset="0.3558" stop-color="#acbd60"/>
<stop offset="0.3898" stop-color="#c3bc56"/>
<stop offset="0.4238" stop-color="#d4bb4e"/>
<stop offset="0.4578" stop-color="#d4bb4e"/>
<stop offset="0.4918" stop-color="#d4bb4e"/>
<stop offset="0.5258" stop-color="#c3bc56"/>
<stop offset="0.5598" stop-color="#acbd60"/>
<stop offset="0.5938" stop-color="#9bbe67"/>
<stop offset="0.6278" stop-color="#86bc70"/>
<stop offset="0.6618" stop-color="#78bb76"/>
<stop offset="0.6958" stop-color="#78bb76"/>
<stop offset="0.7298" stop-color="#6bb97e"/>
<stop offset="0.7638" stop-color="#3bb09a"/>
<stop offset="0.7978" stop-color="#2daea9"/>
<stop offset="0.8318" stop-color="#18abbf"/>
<stop offset="0.8658" stop-color="#0ca3cf"/>
<stop offset="0.8998" stop-color="#0ca3cf"/>
<stop offset="0.9338" stop-color="#0ca3cf"/>
<stop offset="0.9678" stop-color="#0ca3cf"/>
<stop offset="1.0000" stop-color="#0ca3cf"/>
</linearGradient>
<linearGradient id="g32" gradientUnits="userSpaceOnUse" x1="74.0" y1="0" x2="952.0" y2="0">
<stop offset="0.0158" stop-color="#159cd2"/>
<stop offset="0.0498" stop-color="#159cd2"/>
<stop offset="0.0838" stop-color="#159cd2"/>
<stop offset="0.1178" stop-color="#159cd2"/>
<stop offset="0.1518" stop-color="#159cd2"/>
<stop offset="0.1858" stop-color="#13a8c5"/>
<stop offset="0.2198" stop-color="#13a8c5"/>
<stop offset="0.2538" stop-color="#18abbf"/>
<stop offset="0.2878" stop-color="#2daea9"/>
<stop offset="0.3218" stop-color="#58b58b"/>
<stop offset="0.3558" stop-color="#86bc70"/>
<stop offset="0.3898" stop-color="#acbd60"/>
<stop offset="0.4238" stop-color="#c3bc56"/>
<stop offset="0.4578" stop-color="#d4bb4e"/>
<stop offset="0.4918" stop-color="#d4bb4e"/>
<stop offset="0.5258" stop-color="#c3bc56"/>
<stop offset="0.5598" stop-color="#b7bd5c"/>
<stop offset="0.5938" stop-color="#acbd60"/>
<stop offset="0.6278" stop-color="#9bbe67"/>
<stop offset="0.6618" stop-color="#86bc70"/>
<stop offset="0.6958" stop-color="#78bb76"/>
<stop offset="0.7298" stop-color="#6bb97e"/>
<stop offset="0.7638" stop-color="#3bb09a"/>
<stop offset="0.7978" stop-color="#18abbf"/>
<stop offset="0.8318" stop-color="#0ca3cf"/>
<stop offset="0.8658" stop-color="#159cd2"/>
<stop offset="0.8998" stop-color="#159cd2"/>
<stop offset="0.9338" stop-color="#159cd2"/>
<stop offset="0.9678" stop-color="#159cd2"/>
<stop offset="1.0000" stop-color="#159cd2"/>
</linearGradient>
<linearGradient id="g33" gradientUnits="userSpaceOnUse" x1="74.0" y1="0" x2="952.0" y2="0">
<stop offset="0.0158" stop-color="#159cd2"/>
<stop offset="0.0498" stop-color="#159cd2"/>
<stop offset="0.0838" stop-color="#159cd2"/>
<stop offset="0.1178" stop-color="#159cd2"/>
<stop offset="0.1518" stop-color="#159cd2"/>
<stop offset="0.1858" stop-color="#13a8c5"/>
<stop offset="0.2198" stop-color="#13a8c5"/>
<stop offset="0.2538" stop-color="#18abbf"/>
<stop offset="0.2878" stop-color="#18abbf"/>
<stop offset="0.3218" stop-color="#58b58b"/>
<stop offset="0.3558" stop-color="#78bb76"/>
<stop offset="0.3898" stop-color="#a1be65"/>
<stop offset="0.4238" stop-color="#b7bd5c"/>
<stop offset="0.4578" stop-color="#d4bb4e"/>
<stop offset="0.4918" stop-color="#e1ba49"/>
<stop offset="0.5258" stop-color="#e1ba49"/>
<stop offset="0.5598" stop-color="#d4bb4e"/>
<stop offset="0.5938" stop-color="#c3bc56"/>
<stop offset="0.6278" stop-color="#b7bd5c"/>
<stop offset="0.6618" stop-color="#a1be65"/>
<stop offset="0.6958" stop-color="#86bc70"/>
<stop offset="0.7298" stop-color="#6bb97e"/>
<stop offset="0.7638" stop-color="#3bb09a"/>
<stop offset="0.7978" stop-color="#18abbf"/>
<stop offset="0.8318" stop-color="#0ca3cf"/>
<stop offset="0.8658" stop-color="#159cd2"/>
<stop offset="0.8998" stop-color="#159cd2"/>
<stop offset="0.9338" stop-color="#159cd2"/>
<stop offset="0.9678" stop-color="#159cd2"/>
<stop offset="1.0000" stop-color="#159cd2"/>
</linearGradient>
<linearGradient id="g34" gradientUnits="userSpaceOnUse" x1="74.0" y1="0" x2="952.0" y2="0">
<stop offset="0.0158" stop-color="#159cd2"/>
<stop offset="0.0498" stop-color="#159cd2"/>
<stop offset="0.0838" stop-color="#159cd2"/>
<stop offset="0.1178" stop-color="#159cd2"/>
<stop offset="0.1518" stop-color="#159cd2"/>
<stop offset="0.1858" stop-color="#13a8c5"/>
<stop offset="0.2198" stop-color="#13a8c5"/>
<stop offset="0.2538" stop-color="#13a8c5"/>
<stop offset="0.2878" stop-color="#18abbf"/>
<stop offset="0.3218" stop-color="#47b294"/>
<stop offset="0.3558" stop-color="#6bb97e"/>
<stop offset="0.3898" stop-color="#9bbe67"/>
<stop offset="0.4238" stop-color="#b7bd5c"/>
<stop offset="0.4578" stop-color="#d8bb4c"/>
<stop offset="0.4918" stop-color="#e9b946"/>
<stop offset="0.5258" stop-color="#efba40"/>
<stop offset="0.5598" stop-color="#e9b946"/>
<stop offset="0.5938" stop-color="#e9b946"/>
<stop offset="0.6278" stop-color="#c3bc56"/>
<stop offset="0.6618" stop-color="#acbd60"/>
<stop offset="0.6958" stop-color="#86bc70"/>
<stop offset="0.7298" stop-color="#6bb97e"/>
<stop offset="0.7638" stop-color="#2daea9"/>
<stop offset="0.7978" stop-color="#18abbf"/>
<stop offset="0.8318" stop-color="#159cd2"/>
<stop offset="0.8658" stop-color="#159cd2"/>
<stop offset="0.8998" stop-color="#159cd2"/>
<stop offset="0.9338" stop-color="#159cd2"/>
<stop offset="0.9678" stop-color="#159cd2"/>
<stop offset="1.0000" stop-color="#159cd2"/>
</linearGradient>
<linearGradient id="g35" gradientUnits="userSpaceOnUse" x1="74.0" y1="0" x2="952.0" y2="0">
<stop offset="0.0158" stop-color="#159cd2"/>
<stop offset="0.0498" stop-color="#159cd2"/>
<stop offset="0.0838" stop-color="#159cd2"/>
<stop offset="0.1178" stop-color="#159cd2"/>
<stop offset="0.1518" stop-color="#159cd2"/>
<stop offset="0.1858" stop-color="#13a8c5"/>
<stop offset="0.2198" stop-color="#13a8c5"/>
<stop offset="0.2538" stop-color="#13a8c5"/>
<stop offset="0.2878" stop-color="#18abbf"/>
<stop offset="0.3218" stop-color="#3bb09a"/>
<stop offset="0.3558" stop-color="#5eb687"/>
<stop offset="0.3898" stop-color="#86bc70"/>
<stop offset="0.4238" stop-color="#a1be65"/>
<stop offset="0.4578" stop-color="#cebb51"/>
<stop offset="0.4918" stop-color="#e9b946"/>
<stop offset="0.5258" stop-color="#efba40"/>
<stop offset="0.5598" stop-color="#efba40"/>
<stop offset="0.5938" stop-color="#e9b946"/>
<stop offset="0.6278" stop-color="#cebb51"/>
<stop offset="0.6618" stop-color="#acbd60"/>
<stop offset="0.6958" stop-color="#86bc70"/>
<stop offset="0.7298" stop-color="#6bb97e"/>
<stop offset="0.7638" stop-color="#2daea9"/>
<stop offset="0.7978" stop-color="#18abbf"/>
<stop offset="0.8318" stop-color="#159cd2"/>
<stop offset="0.8658" stop-color="#159cd2"/>
<stop offset="0.8998" stop-color="#159cd2"/>
<stop offset="0.9338" stop-color="#159cd2"/>
<stop offset="0.9678" stop-color="#159cd2"/>
<stop offset="1.0000" stop-color="#159cd2"/>
</linearGradient>
<linearGradient id="g36" gradientUnits="userSpaceOnUse" x1="74.0" y1="0" x2="952.0" y2="0">
<stop offset="0.0158" stop-color="#159cd2"/>
<stop offset="0.0498" stop-color="#159cd2"/>
<stop offset="0.0838" stop-color="#159cd2"/>
<stop offset="0.1178" stop-color="#159cd2"/>
<stop offset="0.1518" stop-color="#159cd2"/>
<stop offset="0.1858" stop-color="#13a8c5"/>
<stop offset="0.2198" stop-color="#13a8c5"/>
<stop offset="0.2538" stop-color="#13a8c5"/>
<stop offset="0.2878" stop-color="#11a6c9"/>
<stop offset="0.3218" stop-color="#2daea9"/>
<stop offset="0.3558" stop-color="#47b294"/>
<stop offset="0.3898" stop-color="#6bb97e"/>
<stop offset="0.4238" stop-color="#86bc70"/>
<stop offset="0.4578" stop-color="#c3bc56"/>
<stop offset="0.4918" stop-color="#e1ba49"/>
<stop offset="0.5258" stop-color="#e9b946"/>
<stop offset="0.5598" stop-color="#e9b946"/>
<stop offset="0.5938" stop-color="#e1ba49"/>
<stop offset="0.6278" stop-color="#c3bc56"/>
<stop offset="0.6618" stop-color="#a1be65"/>
<stop offset="0.6958" stop-color="#78bb76"/>
<stop offset="0.7298" stop-color="#5eb687"/>
<stop offset="0.7638" stop-color="#2daea9"/>
<stop offset="0.7978" stop-color="#18abbf"/>
<stop offset="0.8318" stop-color="#0ca3cf"/>
<stop offset="0.8658" stop-color="#0ca3cf"/>
<stop offset="0.8998" stop-color="#0ca3cf"/>
<stop offset="0.9338" stop-color="#0ca3cf"/>
<stop offset="0.9678" stop-color="#0ca3cf"/>
<stop offset="1.0000" stop-color="#0ca3cf"/>
</linearGradient>
<linearGradient id="g37" gradientUnits="userSpaceOnUse" x1="74.0" y1="0" x2="952.0" y2="0">
<stop offset="0.0158" stop-color="#2b8ace"/>
<stop offset="0.0498" stop-color="#2b8ace"/>
<stop offset="0.0838" stop-color="#2b8ace"/>
<stop offset="0.1178" stop-color="#2b8ace"/>
<stop offset="0.1518" stop-color="#2b8ace"/>
<stop offset="0.1858" stop-color="#2b8ace"/>
<stop offset="0.2198" stop-color="#2b8ace"/>
<stop offset="0.2538" stop-color="#2b8ace"/>
<stop offset="0.2878" stop-color="#159cd2"/>
<stop offset="0.3218" stop-color="#0ca3cf"/>
<stop offset="0.3558" stop-color="#18abbf"/>
<stop offset="0.3898" stop-color="#3bb09a"/>
<stop offset="0.4238" stop-color="#58b58b"/>
<stop offset="0.4578" stop-color="#a1be65"/>
<stop offset="0.4918" stop-color="#c3bc56"/>
<stop offset="0.5258" stop-color="#d4bb4e"/>
<stop offset="0.5598" stop-color="#d4bb4e"/>
<stop offset="0.5938" stop-color="#c3bc56"/>
<stop offset="0.6278" stop-color="#acbd60"/>
<stop offset="0.6618" stop-color="#86bc70"/>
<stop offset="0.6958" stop-color="#6bb97e"/>
<stop offset="0.7298" stop-color="#47b294"/>
<stop offset="0.7638" stop-color="#18abbf"/>
<stop offset="0.7978" stop-color="#11a6c9"/>
<stop offset="0.8318" stop-color="#0ca3cf"/>
<stop offset="0.8658" stop-color="#0ca3cf"/>
<stop offset="0.8998" stop-color="#0ca3cf"/>
<stop offset="0.9338" stop-color="#0ca3cf"/>
<stop offset="0.9678" stop-color="#0ca3cf"/>
<stop offset="1.0000" stop-color="#0ca3cf"/>
</linearGradient>
<linearGradient id="g38" gradientUnits="userSpaceOnUse" x1="74.0" y1="0" x2="952.0" y2="0">
<stop offset="0.0158" stop-color="#3478c2"/>
<stop offset="0.0498" stop-color="#3478c2"/>
<stop offset="0.0838" stop-color="#3478c2"/>
<stop offset="0.1178" stop-color="#3478c2"/>
<stop offset="0.1518" stop-color="#3478c2"/>
<stop offset="0.1858" stop-color="#3478c2"/>
<stop offset="0.2198" stop-color="#3478c2"/>
<stop offset="0.2538" stop-color="#3478c2"/>
<stop offset="0.2878" stop-color="#2491d1"/>
<stop offset="0.3218" stop-color="#159cd2"/>
<stop offset="0.3558" stop-color="#13a8c5"/>
<stop offset="0.3898" stop-color="#2daea9"/>
<stop offset="0.4238" stop-color="#4cb391"/>
<stop offset="0.4578" stop-color="#78bb76"/>
<stop offset="0.4918" stop-color="#a1be65"/>
<stop offset="0.5258" stop-color="#acbd60"/>
<stop offset="0.5598" stop-color="#b7bd5c"/>
<stop offset="0.5938" stop-color="#acbd60"/>
<stop offset="0.6278" stop-color="#86bc70"/>
<stop offset="0.6618" stop-color="#6bb97e"/>
<stop offset="0.6958" stop-color="#47b294"/>
<stop offset="0.7298" stop-color="#2daea9"/>
<stop offset="0.7638" stop-color="#11a6c9"/>
<stop offset="0.7978" stop-color="#11a6c9"/>
<stop offset="0.8318" stop-color="#11a6c9"/>
<stop offset="0.8658" stop-color="#11a6c9"/>
<stop offset="0.8998" stop-color="#11a6c9"/>
<stop offset="0.9338" stop-color="#11a6c9"/>
<stop offset="0.9678" stop-color="#11a6c9"/>
<stop offset="1.0000" stop-color="#11a6c9"/>
</linearGradient>
<linearGradient id="g39" gradientUnits="userSpaceOnUse" x1="74.0" y1="0" x2="952.0" y2="0">
<stop offset="0.0158" stop-color="#3478c2"/>
<stop offset="0.0498" stop-color="#3478c2"/>
<stop offset="0.0838" stop-color="#3478c2"/>
<stop offset="0.1178" stop-color="#3478c2"/>
<stop offset="0.1518" stop-color="#3478c2"/>
<stop offset="0.1858" stop-color="#3478c2"/>
<stop offset="0.2198" stop-color="#3478c2"/>
<stop offset="0.2538" stop-color="#3478c2"/>
<stop offset="0.2878" stop-color="#2b8ace"/>
<stop offset="0.3218" stop-color="#1e95d2"/>
<stop offset="0.3558" stop-color="#0ea5cc"/>
<stop offset="0.3898" stop-color="#18abbf"/>
<stop offset="0.4238" stop-color="#41b197"/>
<stop offset="0.4578" stop-color="#58b58b"/>
<stop offset="0.4918" stop-color="#78bb76"/>
<stop offset="0.5258" stop-color="#86bc70"/>
<stop offset="0.5598" stop-color="#9bbe67"/>
<stop offset="0.5938" stop-color="#86bc70"/>
<stop offset="0.6278" stop-color="#6bb97e"/>
<stop offset="0.6618" stop-color="#47b294"/>
<stop offset="0.6958" stop-color="#2daea9"/>
<stop offset="0.7298" stop-color="#11a6c9"/>
<stop offset="0.7638" stop-color="#11a6c9"/>
<stop offset="0.7978" stop-color="#11a6c9"/>
<stop offset="0.8318" stop-color="#11a6c9"/>
<stop offset="0.8658" stop-color="#11a6c9"/>
<stop offset="0.8998" stop-color="#11a6c9"/>
<stop offset="0.9338" stop-color="#11a6c9"/>
<stop offset="0.9678" stop-color="#11a6c9"/>
<stop offset="1.0000" stop-color="#11a6c9"/>
</linearGradient>
<linearGradient id="g40" gradientUnits="userSpaceOnUse" x1="74.0" y1="0" x2="952.0" y2="0">
<stop offset="0.0158" stop-color="#2d87cc"/>
<stop offset="0.0498" stop-color="#2d87cc"/>
<stop offset="0.0838" stop-color="#2d87cc"/>
<stop offset="0.1178" stop-color="#2d87cc"/>
<stop offset="0.1518" stop-color="#2d87cc"/>
<stop offset="0.1858" stop-color="#2d87cc"/>
<stop offset="0.2198" stop-color="#2d87cc"/>
<stop offset="0.2538" stop-color="#2d87cc"/>
<stop offset="0.2878" stop-color="#1e95d2"/>
<stop offset="0.3218" stop-color="#159cd2"/>
<stop offset="0.3558" stop-color="#0ea5cc"/>
<stop offset="0.3898" stop-color="#18abbf"/>
<stop offset="0.4238" stop-color="#2daea9"/>
<stop offset="0.4578" stop-color="#3bb09a"/>
<stop offset="0.4918" stop-color="#58b58b"/>
<stop offset="0.5258" stop-color="#6bb97e"/>
<stop offset="0.5598" stop-color="#78bb76"/>
<stop offset="0.5938" stop-color="#78bb76"/>
<stop offset="0.6278" stop-color="#47b294"/>
<stop offset="0.6618" stop-color="#2daea9"/>
<stop offset="0.6958" stop-color="#11a6c9"/>
<stop offset="0.7298" stop-color="#11a6c9"/>
<stop offset="0.7638" stop-color="#11a6c9"/>
<stop offset="0.7978" stop-color="#11a6c9"/>
<stop offset="0.8318" stop-color="#11a6c9"/>
<stop offset="0.8658" stop-color="#11a6c9"/>
<stop offset="0.8998" stop-color="#11a6c9"/>
<stop offset="0.9338" stop-color="#11a6c9"/>
<stop offset="0.9678" stop-color="#11a6c9"/>
<stop offset="1.0000" stop-color="#11a6c9"/>
</linearGradient>
</defs>
<g clip-path="url(#pc)">
<rect x="74.0" y="14.00" width="878.0" height="20.18" fill="url(#g0)"/>
<rect x="74.0" y="33.18" width="878.0" height="20.18" fill="url(#g1)"/>
<rect x="74.0" y="52.37" width="878.0" height="20.18" fill="url(#g2)"/>
<rect x="74.0" y="71.55" width="878.0" height="20.18" fill="url(#g3)"/>
<rect x="74.0" y="90.73" width="878.0" height="20.18" fill="url(#g4)"/>
<rect x="74.0" y="109.91" width="878.0" height="20.18" fill="url(#g5)"/>
<rect x="74.0" y="129.10" width="878.0" height="20.18" fill="url(#g6)"/>
<rect x="74.0" y="148.28" width="878.0" height="20.18" fill="url(#g7)"/>
<rect x="74.0" y="167.46" width="878.0" height="20.18" fill="url(#g8)"/>
<rect x="74.0" y="186.65" width="878.0" height="20.18" fill="url(#g9)"/>
<rect x="74.0" y="205.83" width="878.0" height="20.18" fill="url(#g10)"/>
<rect x="74.0" y="225.01" width="878.0" height="20.18" fill="url(#g11)"/>
<rect x="74.0" y="244.20" width="878.0" height="20.18" fill="url(#g12)"/>
<rect x="74.0" y="263.38" width="878.0" height="20.18" fill="url(#g13)"/>
<rect x="74.0" y="282.56" width="878.0" height="20.18" fill="url(#g14)"/>
<rect x="74.0" y="301.74" width="878.0" height="20.18" fill="url(#g15)"/>
<rect x="74.0" y="320.93" width="878.0" height="20.18" fill="url(#g16)"/>
<rect x="74.0" y="340.11" width="878.0" height="20.18" fill="url(#g17)"/>
<rect x="74.0" y="359.29" width="878.0" height="20.18" fill="url(#g18)"/>
<rect x="74.0" y="378.48" width="878.0" height="20.18" fill="url(#g19)"/>
<rect x="74.0" y="397.66" width="878.0" height="20.18" fill="url(#g20)"/>
<rect x="74.0" y="416.84" width="878.0" height="20.18" fill="url(#g21)"/>
<rect x="74.0" y="436.02" width="878.0" height="20.18" fill="url(#g22)"/>
<rect x="74.0" y="455.21" width="878.0" height="20.18" fill="url(#g23)"/>
<rect x="74.0" y="474.39" width="878.0" height="20.18" fill="url(#g24)"/>
<rect x="74.0" y="493.57" width="878.0" height="20.18" fill="url(#g25)"/>
<rect x="74.0" y="512.76" width="878.0" height="20.18" fill="url(#g26)"/>
<rect x="74.0" y="531.94" width="878.0" height="20.18" fill="url(#g27)"/>
<rect x="74.0" y="551.12" width="878.0" height="20.18" fill="url(#g28)"/>
<rect x="74.0" y="570.30" width="878.0" height="20.18" fill="url(#g29)"/>
<rect x="74.0" y="589.49" width="878.0" height="20.18" fill="url(#g30)"/>
<rect x="74.0" y="608.67" width="878.0" height="20.18" fill="url(#g31)"/>
<rect x="74.0" y="627.85" width="878.0" height="20.18" fill="url(#g32)"/>
<rect x="74.0" y="647.04" width="878.0" height="20.18" fill="url(#g33)"/>
<rect x="74.0" y="666.22" width="878.0" height="20.18" fill="url(#g34)"/>
<rect x="74.0" y="685.40" width="878.0" height="20.18" fill="url(#g35)"/>
<rect x="74.0" y="704.59" width="878.0" height="20.18" fill="url(#g36)"/>
<rect x="74.0" y="723.77" width="878.0" height="20.18" fill="url(#g37)"/>
<rect x="74.0" y="742.95" width="878.0" height="20.18" fill="url(#g38)"/>
<rect x="74.0" y="762.13" width="878.0" height="20.18" fill="url(#g39)"/>
<rect x="74.0" y="781.32" width="878.0" height="20.18" fill="url(#g40)"/>
<path d="M562.9,58.7 L569.8,61.8 L576.0,74.9 L581.0,89.8 L584.7,104.7 L587.2,117.2 L587.8,127.1 L586.0,135.9 L579.8,141.5 L572.3,142.7 L562.3,140.2 L552.4,136.5 L544.9,130.9 L541.2,124.7 L539.9,117.2 L540.5,109.7 L544.9,97.3 L549.9,84.8 L554.9,72.4 L559.2,63.7 Z" fill="none" stroke="#111" stroke-width="8" stroke-linejoin="round"/>
<path d="M562.9,58.7 L569.8,61.8 L576.0,74.9 L581.0,89.8 L584.7,104.7 L587.2,117.2 L587.8,127.1 L586.0,135.9 L579.8,141.5 L572.3,142.7 L562.3,140.2 L552.4,136.5 L544.9,130.9 L541.2,124.7 L539.9,117.2 L540.5,109.7 L544.9,97.3 L549.9,84.8 L554.9,72.4 L559.2,63.7 Z" fill="none" stroke="#fff" stroke-width="4.3" stroke-linejoin="round"/>
<path d="M343.9,174.9 L352.3,176.3 L358.9,181.0 L367.3,187.1 L371.0,193.6 L372.4,202.0 L372.0,210.4 L368.2,219.8 L362.6,227.2 L356.1,231.9 L350.5,231.9 L345.8,227.2 L340.2,219.8 L336.5,212.3 L334.6,203.9 L334.1,192.7 L335.1,183.3 L338.3,177.3 Z" fill="none" stroke="#111" stroke-width="8" stroke-linejoin="round"/>
<path d="M343.9,174.9 L352.3,176.3 L358.9,181.0 L367.3,187.1 L371.0,193.6 L372.4,202.0 L372.0,210.4 L368.2,219.8 L362.6,227.2 L356.1,231.9 L350.5,231.9 L345.8,227.2 L340.2,219.8 L336.5,212.3 L334.6,203.9 L334.1,192.7 L335.1,183.3 L338.3,177.3 Z" fill="none" stroke="#fff" stroke-width="4.3" stroke-linejoin="round"/>
<path d="M255.9,442.4 L266.8,437.0 L279.9,439.2 L293.0,445.7 L303.9,452.2 L316.9,455.1 L336.6,455.1 L358.4,452.2 L380.2,450.1 L395.0,449.0 L416.8,449.4 L438.6,452.2 L460.4,457.7 L482.2,467.5 L504.0,480.6 L523.6,493.7 L541.0,503.5 L547.6,512.2 L551.5,525.3 L548.7,540.5 L541.0,555.8 L532.3,573.2 L521.4,590.7 L508.4,605.9 L493.1,615.7 L475.7,620.1 L456.0,622.3 L434.2,619.0 L414.6,614.6 L400.0,608.5 L386.7,601.6 L367.1,592.8 L351.8,582.0 L338.7,568.9 L327.8,553.6 L319.1,538.4 L310.4,518.7 L301.7,501.3 L293.0,490.4 L277.7,479.5 L263.5,470.8 L254.8,464.2 L253.7,453.3 Z" fill="none" stroke="#111" stroke-width="8" stroke-linejoin="round"/>
<path d="M255.9,442.4 L266.8,437.0 L279.9,439.2 L293.0,445.7 L303.9,452.2 L316.9,455.1 L336.6,455.1 L358.4,452.2 L380.2,450.1 L395.0,449.0 L416.8,449.4 L438.6,452.2 L460.4,457.7 L482.2,467.5 L504.0,480.6 L523.6,493.7 L541.0,503.5 L547.6,512.2 L551.5,525.3 L548.7,540.5 L541.0,555.8 L532.3,573.2 L521.4,590.7 L508.4,605.9 L493.1,615.7 L475.7,620.1 L456.0,622.3 L434.2,619.0 L414.6,614.6 L400.0,608.5 L386.7,601.6 L367.1,592.8 L351.8,582.0 L338.7,568.9 L327.8,553.6 L319.1,538.4 L310.4,518.7 L301.7,501.3 L293.0,490.4 L277.7,479.5 L263.5,470.8 L254.8,464.2 L253.7,453.3 Z" fill="none" stroke="#fff" stroke-width="4.3" stroke-linejoin="round"/>
<path d="M473.4,701.7 L476.5,686.0 L483.8,673.4 L494.3,661.9 L508.9,655.7 L527.7,653.6 L548.6,654.2 L569.5,655.7 L590.4,658.8 L611.3,664.0 L630.1,673.4 L644.7,683.9 L654.1,694.3 L655.2,702.7 L651.0,715.2 L640.5,723.6 L623.8,729.9 L605.0,735.1 L582.0,737.8 L561.1,737.8 L540.2,735.1 L517.2,729.9 L496.3,722.5 L481.7,713.1 Z" fill="none" stroke="#111" stroke-width="8" stroke-linejoin="round"/>
<path d="M473.4,701.7 L476.5,686.0 L483.8,673.4 L494.3,661.9 L508.9,655.7 L527.7,653.6 L548.6,654.2 L569.5,655.7 L590.4,658.8 L611.3,664.0 L630.1,673.4 L644.7,683.9 L654.1,694.3 L655.2,702.7 L651.0,715.2 L640.5,723.6 L623.8,729.9 L605.0,735.1 L582.0,737.8 L561.1,737.8 L540.2,735.1 L517.2,729.9 L496.3,722.5 L481.7,713.1 Z" fill="none" stroke="#fff" stroke-width="4.3" stroke-linejoin="round"/>
<path d="M72.0,12.0 L97.56,14.00 L98.25,23.83 L98.96,33.66 L99.69,43.49 L100.44,53.33 L101.22,63.16 L102.01,72.99 L102.83,82.82 L103.68,92.65 L104.55,102.48 L105.44,112.31 L106.36,122.14 L107.31,131.97 L108.29,141.81 L109.29,151.64 L110.32,161.47 L111.39,171.30 L112.48,181.13 L113.61,190.96 L114.77,200.79 L115.96,210.62 L117.19,220.46 L118.46,230.29 L119.76,240.12 L121.10,249.95 L122.48,259.78 L123.90,269.61 L125.36,279.44 L126.86,289.27 L128.41,299.11 L130.00,308.94 L131.64,318.77 L133.33,328.60 L135.07,338.43 L136.86,348.26 L138.70,358.09 L140.59,367.93 L142.54,377.76 L144.55,387.59 L146.62,397.42 L148.74,407.25 L150.93,417.08 L153.18,426.91 L155.50,436.74 L157.89,446.57 L160.35,456.41 L162.87,466.24 L165.48,476.07 L168.15,485.90 L170.91,495.73 L173.75,505.56 L176.67,515.39 L179.68,525.23 L182.77,535.06 L185.96,544.89 L189.24,554.72 L192.61,564.55 L196.08,574.38 L199.66,584.21 L203.34,594.04 L207.13,603.88 L211.02,613.71 L215.04,623.54 L219.17,633.37 L223.42,643.20 L227.79,653.03 L232.30,662.86 L236.93,672.69 L241.70,682.52 L246.61,692.36 L251.67,702.19 L256.87,712.02 L262.23,721.85 L267.74,731.68 L273.41,741.51 L279.25,751.34 L285.26,761.17 L291.45,771.01 L297.82,780.84 L304.37,790.67 L311.12,800.50 L311.12,802.5 L72.0,802.5 Z" fill="#fff"/>
<path d="M954.0,12.0 L927.24,14.00 L926.55,23.83 L925.84,33.66 L925.11,43.49 L924.36,53.33 L923.58,63.16 L922.79,72.99 L921.97,82.82 L921.12,92.65 L920.25,102.48 L919.36,112.31 L918.44,122.14 L917.49,131.97 L916.51,141.81 L915.51,151.64 L914.48,161.47 L913.41,171.30 L912.32,181.13 L911.19,190.96 L910.03,200.79 L908.84,210.62 L907.61,220.46 L906.34,230.29 L905.04,240.12 L903.70,249.95 L902.32,259.78 L900.90,269.61 L899.44,279.44 L897.94,289.27 L896.39,299.11 L894.80,308.94 L893.16,318.77 L891.47,328.60 L889.73,338.43 L887.94,348.26 L886.10,358.09 L884.21,367.93 L882.26,377.76 L880.25,387.59 L878.18,397.42 L876.06,407.25 L873.87,417.08 L871.62,426.91 L869.30,436.74 L866.91,446.57 L864.45,456.41 L861.93,466.24 L859.32,476.07 L856.65,485.90 L853.89,495.73 L851.05,505.56 L848.13,515.39 L845.12,525.23 L842.03,535.06 L838.84,544.89 L835.56,554.72 L832.19,564.55 L828.72,574.38 L825.14,584.21 L821.46,594.04 L817.67,603.88 L813.78,613.71 L809.76,623.54 L805.63,633.37 L801.38,643.20 L797.01,653.03 L792.50,662.86 L787.87,672.69 L783.10,682.52 L778.19,692.36 L773.13,702.19 L767.93,712.02 L762.57,721.85 L757.06,731.68 L751.39,741.51 L745.55,751.34 L739.54,761.17 L733.35,771.01 L726.98,780.84 L720.43,790.67 L713.68,800.50 L713.68,802.5 L954.0,802.5 Z" fill="#fff"/>
<defs><clipPath id="cone2"><path d="M94.57,-16.00 L95.18,-6.59 L95.80,2.81 L96.44,12.22 L97.09,21.62 L97.77,31.03 L98.46,40.43 L99.17,49.84 L99.91,59.24 L100.66,68.65 L101.43,78.06 L102.23,87.46 L103.05,96.87 L103.89,106.27 L104.75,115.68 L105.64,125.08 L106.56,134.49 L107.50,143.89 L108.46,153.30 L109.46,162.71 L110.48,172.11 L111.53,181.52 L112.60,190.92 L113.71,200.33 L114.85,209.73 L116.02,219.14 L117.23,228.54 L118.47,237.95 L119.74,247.36 L121.05,256.76 L122.39,266.17 L123.78,275.57 L125.20,284.98 L126.66,294.38 L128.16,303.79 L129.71,313.19 L131.30,322.60 L132.93,332.01 L134.61,341.41 L136.33,350.82 L138.10,360.22 L139.93,369.63 L141.80,379.03 L143.73,388.44 L145.71,397.84 L147.74,407.25 L149.83,416.66 L151.99,426.06 L154.20,435.47 L156.47,444.87 L158.81,454.28 L161.21,463.68 L163.68,473.09 L166.22,482.49 L168.83,491.90 L171.51,501.31 L174.27,510.71 L177.10,520.12 L180.02,529.52 L183.02,538.93 L186.10,548.33 L189.26,557.74 L192.52,567.14 L195.86,576.55 L199.30,585.96 L202.84,595.36 L206.47,604.77 L210.21,614.17 L214.05,623.58 L218.00,632.98 L222.06,642.39 L226.24,651.79 L230.53,661.20 L234.94,670.61 L239.47,680.01 L244.13,689.42 L248.92,698.82 L253.85,708.23 L258.91,717.63 L264.12,727.04 L269.47,736.44 L274.97,745.85 L280.62,755.26 L286.43,764.66 L292.41,774.07 L298.55,783.47 L304.87,792.88 L311.36,802.28 L318.03,811.69 L324.89,821.09 L331.95,830.50 L697.35,830.50 L704.41,821.09 L711.27,811.69 L717.94,802.28 L724.43,792.88 L730.75,783.47 L736.89,774.07 L742.87,764.66 L748.68,755.26 L754.33,745.85 L759.83,736.44 L765.18,727.04 L770.39,717.63 L775.45,708.23 L780.38,698.82 L785.17,689.42 L789.83,680.01 L794.36,670.61 L798.77,661.20 L803.06,651.79 L807.24,642.39 L811.30,632.98 L815.25,623.58 L819.09,614.17 L822.83,604.77 L826.46,595.36 L830.00,585.96 L833.44,576.55 L836.78,567.14 L840.04,557.74 L843.20,548.33 L846.28,538.93 L849.28,529.52 L852.20,520.12 L855.03,510.71 L857.79,501.31 L860.47,491.90 L863.08,482.49 L865.62,473.09 L868.09,463.68 L870.49,454.28 L872.83,444.87 L875.10,435.47 L877.31,426.06 L879.47,416.66 L881.56,407.25 L883.59,397.84 L885.57,388.44 L887.50,379.03 L889.37,369.63 L891.20,360.22 L892.97,350.82 L894.69,341.41 L896.37,332.01 L898.00,322.60 L899.59,313.19 L901.14,303.79 L902.64,294.38 L904.10,284.98 L905.52,275.57 L906.91,266.17 L908.25,256.76 L909.56,247.36 L910.83,237.95 L912.07,228.54 L913.28,219.14 L914.45,209.73 L915.59,200.33 L916.70,190.92 L917.77,181.52 L918.82,172.11 L919.84,162.71 L920.84,153.30 L921.80,143.89 L922.74,134.49 L923.66,125.08 L924.55,115.68 L925.41,106.27 L926.25,96.87 L927.07,87.46 L927.87,78.06 L928.64,68.65 L929.39,59.24 L930.13,49.84 L930.84,40.43 L931.53,31.03 L932.21,21.62 L932.86,12.22 L933.50,2.81 L934.12,-6.59 L934.73,-16.00 Z"/></clipPath></defs>
<g clip-path="url(#cone2)">
<defs><path id="ar" d="M-12.9,-1.25 L0.4,-1.25 L0.4,-6.2 L12.9,0 L0.4,6.2 L0.4,1.25 L-12.9,1.25 Z"/><path id="as" d="M-12.9,-1.25 L1.5,-1.25 L1.5,1.25 L-12.9,1.25 Z"/></defs>
<g fill="#1e1e1e">
<use href="#ar" transform="translate(117.8,14.4) rotate(5)"/>
<use href="#ar" transform="translate(117.8,34.1) rotate(0)"/>
<use href="#ar" transform="translate(147.7,14.4) rotate(12)"/>
<use href="#ar" transform="translate(147.7,34.1) rotate(12)"/>
<use href="#ar" transform="translate(147.7,53.8) rotate(12)"/>
<use href="#ar" transform="translate(147.7,73.4) rotate(12)"/>
<use href="#ar" transform="translate(147.7,93.1) rotate(10)"/>
<use href="#ar" transform="translate(207.4,466.6) rotate(5)"/>
<use href="#ar" transform="translate(207.4,486.3) rotate(5)"/>
<use href="#ar" transform="translate(237.2,309.3) rotate(20)"/>
<use href="#ar" transform="translate(237.2,329.0) rotate(30)"/>
<use href="#ar" transform="translate(237.2,348.7) rotate(40)"/>
<use href="#ar" transform="translate(237.2,368.3) rotate(45)"/>
<use href="#ar" transform="translate(237.2,388.0) rotate(50)"/>
<use href="#ar" transform="translate(237.2,407.6) rotate(44)"/>
<use href="#ar" transform="translate(237.2,427.3) rotate(34)"/>
<use href="#ar" transform="translate(237.2,447.0) rotate(24)"/>
<use href="#ar" transform="translate(237.2,466.6) rotate(17)"/>
<use href="#ar" transform="translate(237.2,486.3) rotate(15)"/>
<use href="#ar" transform="translate(237.2,505.9) rotate(13)"/>
<use href="#ar" transform="translate(267.1,93.1) rotate(80)"/>
<use href="#ar" transform="translate(267.1,112.7) rotate(55)"/>
<use href="#ar" transform="translate(267.1,132.4) rotate(50)"/>
<use href="#ar" transform="translate(267.1,152.1) rotate(45)"/>
<use href="#ar" transform="translate(267.1,171.7) rotate(40)"/>
<use href="#ar" transform="translate(267.1,191.4) rotate(35)"/>
<use href="#ar" transform="translate(267.1,211.0) rotate(25)"/>
<use href="#ar" transform="translate(267.1,230.7) rotate(20)"/>
<use href="#ar" transform="translate(267.1,250.4) rotate(20)"/>
<use href="#ar" transform="translate(267.1,270.0) rotate(20)"/>
<use href="#ar" transform="translate(267.1,289.7) rotate(22)"/>
<use href="#ar" transform="translate(267.1,309.3) rotate(20)"/>
<use href="#ar" transform="translate(267.1,329.0) rotate(18)"/>
<use href="#ar" transform="translate(267.1,348.7) rotate(20)"/>
<use href="#ar" transform="translate(267.1,368.3) rotate(25)"/>
<use href="#ar" transform="translate(267.1,388.0) rotate(35)"/>
<use href="#ar" transform="translate(267.1,407.6) rotate(41)"/>
<use href="#ar" transform="translate(267.1,427.3) rotate(35)"/>
<use href="#ar" transform="translate(267.1,447.0) rotate(30)"/>
<use href="#ar" transform="translate(267.1,466.6) rotate(20)"/>
<use href="#ar" transform="translate(267.1,486.3) rotate(22)"/>
<use href="#ar" transform="translate(267.1,505.9) rotate(25)"/>
<use href="#ar" transform="translate(267.1,525.6) rotate(40)"/>
<use href="#ar" transform="translate(296.9,407.6) rotate(50)"/>
<use href="#ar" transform="translate(296.9,427.3) rotate(37)"/>
<use href="#ar" transform="translate(296.9,447.0) rotate(25)"/>
<use href="#ar" transform="translate(296.9,466.6) rotate(22)"/>
<use href="#ar" transform="translate(296.9,486.3) rotate(22)"/>
<use href="#ar" transform="translate(296.9,505.9) rotate(37)"/>
<use href="#ar" transform="translate(296.9,525.6) rotate(55)"/>
<use href="#ar" transform="translate(296.9,545.3) rotate(95)"/>
<use href="#ar" transform="translate(296.9,564.9) rotate(124)"/>
<use href="#ar" transform="translate(296.9,584.6) rotate(164)"/>
<use href="#ar" transform="translate(326.8,112.7) rotate(150)"/>
<use href="#ar" transform="translate(326.8,132.4) rotate(150)"/>
<use href="#ar" transform="translate(326.8,152.1) rotate(145)"/>
<use href="#ar" transform="translate(326.8,171.7) rotate(145)"/>
<use href="#ar" transform="translate(326.8,191.4) rotate(150)"/>
<use href="#ar" transform="translate(326.8,211.0) rotate(150)"/>
<use href="#ar" transform="translate(326.8,230.7) rotate(130)"/>
<use href="#ar" transform="translate(326.8,427.3) rotate(18)"/>
<use href="#ar" transform="translate(326.8,447.0) rotate(355)"/>
<use href="#ar" transform="translate(326.8,466.6) rotate(3)"/>
<use href="#ar" transform="translate(326.8,486.3) rotate(24)"/>
<use href="#ar" transform="translate(326.8,505.9) rotate(36)"/>
<use href="#ar" transform="translate(326.8,525.6) rotate(50)"/>
<use href="#ar" transform="translate(326.8,545.3) rotate(60)"/>
<use href="#ar" transform="translate(326.8,564.9) rotate(70)"/>
<use href="#ar" transform="translate(326.8,584.6) rotate(50)"/>
<use href="#ar" transform="translate(326.8,604.2) rotate(340)"/>
<use href="#ar" transform="translate(326.8,623.9) rotate(330)"/>
<use href="#ar" transform="translate(326.8,643.6) rotate(330)"/>
<use href="#ar" transform="translate(326.8,663.2) rotate(330)"/>
<use href="#ar" transform="translate(356.6,152.1) rotate(110)"/>
<use href="#ar" transform="translate(356.6,171.7) rotate(120)"/>
<use href="#ar" transform="translate(356.6,191.4) rotate(130)"/>
<use href="#ar" transform="translate(356.6,211.0) rotate(140)"/>
<use href="#ar" transform="translate(356.6,230.7) rotate(140)"/>
<use href="#ar" transform="translate(356.6,250.4) rotate(145)"/>
<use href="#ar" transform="translate(356.6,427.3) rotate(50)"/>
<use href="#ar" transform="translate(356.6,447.0) rotate(180)"/>
<use href="#ar" transform="translate(356.6,466.6) rotate(26)"/>
<use href="#ar" transform="translate(356.6,486.3) rotate(28)"/>
<use href="#ar" transform="translate(356.6,505.9) rotate(37)"/>
<use href="#ar" transform="translate(356.6,525.6) rotate(38)"/>
<use href="#ar" transform="translate(356.6,545.3) rotate(45)"/>
<use href="#ar" transform="translate(356.6,564.9) rotate(35)"/>
<use href="#ar" transform="translate(356.6,584.6) rotate(30)"/>
<use href="#ar" transform="translate(356.6,604.2) rotate(5)"/>
<use href="#ar" transform="translate(356.6,623.9) rotate(355)"/>
<use href="#ar" transform="translate(356.6,643.6) rotate(352)"/>
<use href="#ar" transform="translate(356.6,663.2) rotate(350)"/>
<use href="#ar" transform="translate(356.6,682.9) rotate(352)"/>
<use href="#ar" transform="translate(356.6,702.5) rotate(355)"/>
<use href="#ar" transform="translate(356.6,722.2) rotate(15)"/>
<use href="#ar" transform="translate(386.4,14.4) rotate(315)"/>
<use href="#ar" transform="translate(386.4,171.7) rotate(145)"/>
<use href="#ar" transform="translate(386.4,191.4) rotate(145)"/>
<use href="#ar" transform="translate(386.4,211.0) rotate(145)"/>
<use href="#ar" transform="translate(386.4,427.3) rotate(55)"/>
<use href="#ar" transform="translate(386.4,447.0) rotate(55)"/>
<use href="#ar" transform="translate(386.4,466.6) rotate(40)"/>
<use href="#ar" transform="translate(386.4,486.3) rotate(35)"/>
<use href="#ar" transform="translate(386.4,505.9) rotate(35)"/>
<use href="#ar" transform="translate(386.4,525.6) rotate(35)"/>
<use href="#ar" transform="translate(386.4,545.3) rotate(35)"/>
<use href="#ar" transform="translate(386.4,564.9) rotate(30)"/>
<use href="#ar" transform="translate(386.4,584.6) rotate(28)"/>
<use href="#ar" transform="translate(386.4,604.2) rotate(10)"/>
<use href="#ar" transform="translate(386.4,623.9) rotate(5)"/>
<use href="#ar" transform="translate(386.4,643.6) rotate(3)"/>
<use href="#ar" transform="translate(386.4,663.2) rotate(0)"/>
<use href="#ar" transform="translate(386.4,682.9) rotate(3)"/>
<use href="#ar" transform="translate(386.4,702.5) rotate(8)"/>
<use href="#ar" transform="translate(386.4,722.2) rotate(30)"/>
<use href="#ar" transform="translate(386.4,741.9) rotate(75)"/>
<use href="#ar" transform="translate(416.3,14.4) rotate(255)"/>
<use href="#ar" transform="translate(416.3,427.3) rotate(18)"/>
<use href="#ar" transform="translate(416.3,447.0) rotate(30)"/>
<use href="#ar" transform="translate(416.3,466.6) rotate(32)"/>
<use href="#ar" transform="translate(416.3,486.3) rotate(33)"/>
<use href="#ar" transform="translate(416.3,505.9) rotate(33)"/>
<use href="#ar" transform="translate(416.3,525.6) rotate(33)"/>
<use href="#ar" transform="translate(416.3,545.3) rotate(33)"/>
<use href="#ar" transform="translate(416.3,564.9) rotate(30)"/>
<use href="#ar" transform="translate(416.3,584.6) rotate(28)"/>
<use href="#ar" transform="translate(416.3,604.2) rotate(20)"/>
<use href="#ar" transform="translate(416.3,623.9) rotate(15)"/>
<use href="#ar" transform="translate(416.3,643.6) rotate(15)"/>
<use href="#ar" transform="translate(416.3,663.2) rotate(15)"/>
<use href="#ar" transform="translate(416.3,682.9) rotate(18)"/>
<use href="#ar" transform="translate(416.3,702.5) rotate(22)"/>
<use href="#ar" transform="translate(416.3,722.2) rotate(38)"/>
<use href="#ar" transform="translate(416.3,741.9) rotate(70)"/>
<use href="#ar" transform="translate(416.3,761.5) rotate(88)"/>
<use href="#ar" transform="translate(446.2,14.4) rotate(200)"/>
<use href="#ar" transform="translate(446.2,34.1) rotate(200)"/>
<use href="#ar" transform="translate(446.2,53.8) rotate(211)"/>
<use href="#ar" transform="translate(446.2,427.3) rotate(3)"/>
<use href="#ar" transform="translate(446.2,447.0) rotate(22)"/>
<use href="#ar" transform="translate(446.2,466.6) rotate(30)"/>
<use href="#ar" transform="translate(446.2,486.3) rotate(33)"/>
<use href="#ar" transform="translate(446.2,505.9) rotate(33)"/>
<use href="#ar" transform="translate(446.2,525.6) rotate(30)"/>
<use href="#ar" transform="translate(446.2,545.3) rotate(30)"/>
<use href="#ar" transform="translate(446.2,564.9) rotate(28)"/>
<use href="#ar" transform="translate(446.2,584.6) rotate(30)"/>
<use href="#ar" transform="translate(446.2,604.2) rotate(30)"/>
<use href="#ar" transform="translate(446.2,623.9) rotate(22)"/>
<use href="#ar" transform="translate(446.2,643.6) rotate(25)"/>
<use href="#ar" transform="translate(446.2,663.2) rotate(25)"/>
<use href="#ar" transform="translate(446.2,682.9) rotate(28)"/>
<use href="#ar" transform="translate(446.2,702.5) rotate(28)"/>
<use href="#ar" transform="translate(446.2,722.2) rotate(38)"/>
<use href="#ar" transform="translate(446.2,741.9) rotate(65)"/>
<use href="#ar" transform="translate(446.2,761.5) rotate(85)"/>
<use href="#ar" transform="translate(446.2,781.2) rotate(90)"/>
<use href="#ar" transform="translate(476.0,14.4) rotate(150)"/>
<use href="#ar" transform="translate(476.0,34.1) rotate(180)"/>
<use href="#ar" transform="translate(476.0,447.0) rotate(28)"/>
<use href="#ar" transform="translate(476.0,466.6) rotate(35)"/>
<use href="#ar" transform="translate(476.0,486.3) rotate(32)"/>
<use href="#ar" transform="translate(476.0,505.9) rotate(28)"/>
<use href="#ar" transform="translate(476.0,525.6) rotate(25)"/>
<use href="#ar" transform="translate(476.0,545.3) rotate(25)"/>
<use href="#ar" transform="translate(476.0,564.9) rotate(28)"/>
<use href="#ar" transform="translate(476.0,584.6) rotate(32)"/>
<use href="#ar" transform="translate(476.0,604.2) rotate(35)"/>
<use href="#ar" transform="translate(476.0,623.9) rotate(32)"/>
<use href="#ar" transform="translate(476.0,643.6) rotate(30)"/>
<use href="#ar" transform="translate(476.0,663.2) rotate(35)"/>
<use href="#ar" transform="translate(476.0,682.9) rotate(35)"/>
<use href="#ar" transform="translate(476.0,702.5) rotate(40)"/>
<use href="#ar" transform="translate(476.0,722.2) rotate(50)"/>
<use href="#ar" transform="translate(476.0,741.9) rotate(70)"/>
<use href="#ar" transform="translate(476.0,761.5) rotate(85)"/>
<use href="#ar" transform="translate(476.0,781.2) rotate(88)"/>
<use href="#ar" transform="translate(476.0,800.8) rotate(90)"/>
<use href="#ar" transform="translate(505.9,447.0) rotate(42)"/>
<use href="#ar" transform="translate(505.9,466.6) rotate(40)"/>
<use href="#ar" transform="translate(505.9,486.3) rotate(35)"/>
<use href="#ar" transform="translate(505.9,505.9) rotate(20)"/>
<use href="#ar" transform="translate(505.9,525.6) rotate(12)"/>
<use href="#ar" transform="translate(505.9,545.3) rotate(12)"/>
<use href="#ar" transform="translate(505.9,564.9) rotate(30)"/>
<use href="#ar" transform="translate(505.9,584.6) rotate(40)"/>
<use href="#ar" transform="translate(505.9,604.2) rotate(42)"/>
<use href="#ar" transform="translate(505.9,623.9) rotate(45)"/>
<use href="#ar" transform="translate(505.9,643.6) rotate(40)"/>
<use href="#ar" transform="translate(505.9,663.2) rotate(35)"/>
<use href="#ar" transform="translate(505.9,682.9) rotate(32)"/>
<use href="#ar" transform="translate(505.9,702.5) rotate(32)"/>
<use href="#ar" transform="translate(505.9,722.2) rotate(40)"/>
<use href="#ar" transform="translate(505.9,741.9) rotate(60)"/>
<use href="#ar" transform="translate(505.9,761.5) rotate(80)"/>
<use href="#ar" transform="translate(505.9,781.2) rotate(88)"/>
<use href="#ar" transform="translate(505.9,800.8) rotate(90)"/>
<use href="#ar" transform="translate(535.7,53.8) rotate(133)"/>
<use href="#ar" transform="translate(535.7,73.4) rotate(110)"/>
<use href="#ar" transform="translate(535.7,93.1) rotate(100)"/>
<use href="#ar" transform="translate(535.7,112.7) rotate(95)"/>
<use href="#ar" transform="translate(535.7,132.4) rotate(95)"/>
<use href="#ar" transform="translate(535.7,152.1) rotate(95)"/>
<use href="#ar" transform="translate(535.7,447.0) rotate(62)"/>
<use href="#ar" transform="translate(535.7,466.6) rotate(48)"/>
<use href="#ar" transform="translate(535.7,486.3) rotate(35)"/>
<use href="#ar" transform="translate(535.7,505.9) rotate(20)"/>
<use href="#ar" transform="translate(535.7,525.6) rotate(0)"/>
<use href="#ar" transform="translate(535.7,545.3) rotate(330)"/>
<use href="#ar" transform="translate(535.7,564.9) rotate(70)"/>
<use href="#ar" transform="translate(535.7,584.6) rotate(80)"/>
<use href="#ar" transform="translate(535.7,604.2) rotate(80)"/>
<use href="#ar" transform="translate(535.7,623.9) rotate(70)"/>
<use href="#ar" transform="translate(535.7,643.6) rotate(45)"/>
<use href="#ar" transform="translate(535.7,663.2) rotate(40)"/>
<use href="#ar" transform="translate(535.7,682.9) rotate(35)"/>
<use href="#ar" transform="translate(535.7,702.5) rotate(35)"/>
<use href="#ar" transform="translate(535.7,722.2) rotate(35)"/>
<use href="#ar" transform="translate(535.7,741.9) rotate(45)"/>
<use href="#ar" transform="translate(535.7,761.5) rotate(75)"/>
<use href="#ar" transform="translate(535.7,781.2) rotate(85)"/>
<use href="#ar" transform="translate(535.7,800.8) rotate(90)"/>
<use href="#ar" transform="translate(565.6,14.4) rotate(100)"/>
<use href="#ar" transform="translate(565.6,34.1) rotate(105)"/>
<use href="#ar" transform="translate(565.6,53.8) rotate(105)"/>
<use href="#ar" transform="translate(565.6,73.4) rotate(100)"/>
<use href="#ar" transform="translate(565.6,93.1) rotate(80)"/>
<use href="#ar" transform="translate(565.6,112.7) rotate(78)"/>
<use href="#ar" transform="translate(565.6,132.4) rotate(54)"/>
<use href="#ar" transform="translate(565.6,152.1) rotate(50)"/>
<use href="#ar" transform="translate(565.6,171.7) rotate(35)"/>
<use href="#ar" transform="translate(565.6,466.6) rotate(50)"/>
<use href="#ar" transform="translate(565.6,486.3) rotate(40)"/>
<use href="#ar" transform="translate(565.6,505.9) rotate(28)"/>
<use href="#ar" transform="translate(565.6,525.6) rotate(3)"/>
<use href="#ar" transform="translate(565.6,545.3) rotate(260)"/>
<use href="#ar" transform="translate(565.6,564.9) rotate(165)"/>
<use href="#ar" transform="translate(565.6,584.6) rotate(95)"/>
<use href="#ar" transform="translate(565.6,604.2) rotate(95)"/>
<use href="#ar" transform="translate(565.6,623.9) rotate(70)"/>
<use href="#ar" transform="translate(565.6,643.6) rotate(50)"/>
<use href="#ar" transform="translate(565.6,663.2) rotate(40)"/>
<use href="#ar" transform="translate(565.6,682.9) rotate(35)"/>
<use href="#ar" transform="translate(565.6,702.5) rotate(33)"/>
<use href="#ar" transform="translate(565.6,722.2) rotate(33)"/>
<use href="#ar" transform="translate(565.6,741.9) rotate(45)"/>
<use href="#ar" transform="translate(565.6,761.5) rotate(60)"/>
<use href="#ar" transform="translate(565.6,781.2) rotate(85)"/>
<use href="#ar" transform="translate(565.6,800.8) rotate(90)"/>
<use href="#ar" transform="translate(595.4,73.4) rotate(110)"/>
<use href="#ar" transform="translate(595.4,93.1) rotate(80)"/>
<use href="#ar" transform="translate(595.4,112.7) rotate(52)"/>
<use href="#ar" transform="translate(595.4,132.4) rotate(40)"/>
<use href="#ar" transform="translate(595.4,152.1) rotate(35)"/>
<use href="#ar" transform="translate(595.4,171.7) rotate(30)"/>
<use href="#ar" transform="translate(595.4,191.4) rotate(30)"/>
<use href="#ar" transform="translate(595.4,466.6) rotate(60)"/>
<use href="#ar" transform="translate(595.4,486.3) rotate(55)"/>
<use href="#ar" transform="translate(595.4,505.9) rotate(50)"/>
<use href="#ar" transform="translate(595.4,525.6) rotate(50)"/>
<use href="#ar" transform="translate(595.4,545.3) rotate(75)"/>
<use href="#ar" transform="translate(595.4,564.9) rotate(100)"/>
<use href="#ar" transform="translate(595.4,584.6) rotate(95)"/>
<use href="#ar" transform="translate(595.4,604.2) rotate(95)"/>
<use href="#ar" transform="translate(595.4,623.9) rotate(75)"/>
<use href="#ar" transform="translate(595.4,643.6) rotate(55)"/>
<use href="#ar" transform="translate(595.4,663.2) rotate(42)"/>
<use href="#ar" transform="translate(595.4,682.9) rotate(33)"/>
<use href="#ar" transform="translate(595.4,702.5) rotate(28)"/>
<use href="#ar" transform="translate(595.4,722.2) rotate(28)"/>
<use href="#ar" transform="translate(595.4,741.9) rotate(40)"/>
<use href="#ar" transform="translate(595.4,761.5) rotate(52)"/>
<use href="#ar" transform="translate(595.4,781.2) rotate(80)"/>
<use href="#ar" transform="translate(595.4,800.8) rotate(80)"/>
<use href="#ar" transform="translate(625.3,132.4) rotate(305)"/>
<use href="#ar" transform="translate(625.3,152.1) rotate(352)"/>
<use href="#ar" transform="translate(625.3,486.3) rotate(70)"/>
<use href="#ar" transform="translate(625.3,505.9) rotate(75)"/>
<use href="#ar" transform="translate(625.3,525.6) rotate(80)"/>
<use href="#ar" transform="translate(625.3,545.3) rotate(85)"/>
<use href="#ar" transform="translate(625.3,564.9) rotate(90)"/>
<use href="#ar" transform="translate(625.3,584.6) rotate(90)"/>
<use href="#ar" transform="translate(625.3,604.2) rotate(92)"/>
<use href="#ar" transform="translate(625.3,623.9) rotate(80)"/>
<use href="#ar" transform="translate(625.3,643.6) rotate(60)"/>
<use href="#ar" transform="translate(625.3,663.2) rotate(42)"/>
<use href="#ar" transform="translate(625.3,682.9) rotate(30)"/>
<use href="#ar" transform="translate(625.3,702.5) rotate(22)"/>
<use href="#ar" transform="translate(625.3,722.2) rotate(20)"/>
<use href="#ar" transform="translate(625.3,741.9) rotate(30)"/>
<use href="#ar" transform="translate(625.3,761.5) rotate(40)"/>
<use href="#ar" transform="translate(625.3,781.2) rotate(50)"/>
<use href="#ar" transform="translate(625.3,800.8) rotate(60)"/>
<use href="#ar" transform="translate(655.1,152.1) rotate(182)"/>
<use href="#ar" transform="translate(655.1,171.7) rotate(130)"/>
<use href="#ar" transform="translate(655.1,191.4) rotate(97)"/>
<use href="#ar" transform="translate(655.1,505.9) rotate(80)"/>
<use href="#ar" transform="translate(655.1,525.6) rotate(85)"/>
<use href="#ar" transform="translate(655.1,545.3) rotate(90)"/>
<use href="#ar" transform="translate(655.1,564.9) rotate(90)"/>
<use href="#ar" transform="translate(655.1,584.6) rotate(90)"/>
<use href="#ar" transform="translate(655.1,604.2) rotate(90)"/>
<use href="#ar" transform="translate(655.1,623.9) rotate(82)"/>
<use href="#ar" transform="translate(655.1,643.6) rotate(65)"/>
<use href="#ar" transform="translate(655.1,663.2) rotate(38)"/>
<use href="#ar" transform="translate(655.1,682.9) rotate(20)"/>
<use href="#ar" transform="translate(655.1,702.5) rotate(10)"/>
<use href="#ar" transform="translate(655.1,722.2) rotate(12)"/>
<use href="#ar" transform="translate(655.1,741.9) rotate(20)"/>
<use href="#ar" transform="translate(655.1,761.5) rotate(35)"/>
<use href="#ar" transform="translate(655.1,781.2) rotate(35)"/>
<use href="#ar" transform="translate(655.1,800.8) rotate(20)"/>
<use href="#ar" transform="translate(685.0,132.4) rotate(54)"/>
<use href="#ar" transform="translate(685.0,152.1) rotate(75)"/>
<use href="#ar" transform="translate(685.0,171.7) rotate(80)"/>
<use href="#ar" transform="translate(685.0,191.4) rotate(85)"/>
<use href="#ar" transform="translate(685.0,211.0) rotate(88)"/>
<use href="#ar" transform="translate(685.0,230.7) rotate(90)"/>
<use href="#ar" transform="translate(685.0,545.3) rotate(80)"/>
<use href="#ar" transform="translate(685.0,564.9) rotate(90)"/>
<use href="#ar" transform="translate(685.0,584.6) rotate(90)"/>
<use href="#ar" transform="translate(685.0,604.2) rotate(90)"/>
<use href="#ar" transform="translate(685.0,623.9) rotate(88)"/>
<use href="#ar" transform="translate(685.0,643.6) rotate(70)"/>
<use href="#ar" transform="translate(685.0,663.2) rotate(30)"/>
<use href="#ar" transform="translate(685.0,682.9) rotate(12)"/>
<use href="#ar" transform="translate(685.0,702.5) rotate(5)"/>
<use href="#ar" transform="translate(685.0,722.2) rotate(3)"/>
<use href="#ar" transform="translate(685.0,741.9) rotate(12)"/>
<use href="#ar" transform="translate(685.0,761.5) rotate(35)"/>
<use href="#ar" transform="translate(685.0,781.2) rotate(35)"/>
<use href="#ar" transform="translate(714.8,564.9) rotate(75)"/>
<use href="#ar" transform="translate(714.8,584.6) rotate(95)"/>
<use href="#ar" transform="translate(714.8,604.2) rotate(100)"/>
<use href="#ar" transform="translate(714.8,623.9) rotate(110)"/>
<use href="#ar" transform="translate(714.8,643.6) rotate(70)"/>
<use href="#ar" transform="translate(714.8,663.2) rotate(25)"/>
<use href="#ar" transform="translate(714.8,682.9) rotate(5)"/>
<use href="#ar" transform="translate(714.8,702.5) rotate(357)"/>
<use href="#ar" transform="translate(714.8,722.2) rotate(355)"/>
<use href="#ar" transform="translate(714.8,741.9) rotate(5)"/>
<use href="#ar" transform="translate(714.8,761.5) rotate(45)"/>
<use href="#ar" transform="translate(744.7,584.6) rotate(45)"/>
<use href="#ar" transform="translate(744.7,604.2) rotate(216)"/>
<use href="#ar" transform="translate(744.7,623.9) rotate(205)"/>
<use href="#ar" transform="translate(744.7,643.6) rotate(25)"/>
<use href="#ar" transform="translate(744.7,663.2) rotate(8)"/>
<use href="#ar" transform="translate(744.7,682.9) rotate(355)"/>
<use href="#ar" transform="translate(744.7,702.5) rotate(335)"/>
<use href="#ar" transform="translate(744.7,722.2) rotate(320)"/>
<use href="#ar" transform="translate(774.5,14.4) rotate(135)"/>
<use href="#ar" transform="translate(774.5,604.2) rotate(323)"/>
<use href="#ar" transform="translate(804.4,250.4) rotate(0)"/>
<use href="#ar" transform="translate(804.4,270.0) rotate(3)"/>
<use href="#ar" transform="translate(804.4,289.7) rotate(357)"/>
<use href="#ar" transform="translate(804.4,309.3) rotate(345)"/>
<use href="#ar" transform="translate(834.2,230.7) rotate(308)"/>
<use href="#ar" transform="translate(834.2,250.4) rotate(270)"/>
<use href="#ar" transform="translate(834.2,270.0) rotate(217)"/>
<use href="#ar" transform="translate(834.2,289.7) rotate(339)"/>
<use href="#ar" transform="translate(834.2,309.3) rotate(343)"/>
<use href="#ar" transform="translate(864.1,132.4) rotate(10)"/>
<use href="#ar" transform="translate(864.1,152.1) rotate(8)"/>
<use href="#ar" transform="translate(864.1,171.7) rotate(0)"/>
<use href="#ar" transform="translate(864.1,191.4) rotate(348)"/>
<use href="#ar" transform="translate(864.1,211.0) rotate(332)"/>
<use href="#ar" transform="translate(864.1,230.7) rotate(328)"/>
<use href="#ar" transform="translate(864.1,250.4) rotate(319)"/>
<use href="#ar" transform="translate(864.1,270.0) rotate(316)"/>
<use href="#ar" transform="translate(864.1,289.7) rotate(315)"/>
<use href="#ar" transform="translate(893.9,132.4) rotate(15)"/>
<use href="#ar" transform="translate(893.9,152.1) rotate(15)"/>
<use href="#ar" transform="translate(893.9,171.7) rotate(25)"/>
<use href="#ar" transform="translate(893.9,191.4) rotate(37)"/>
<use href="#ar" transform="translate(893.9,211.0) rotate(17)"/>
<use href="#as" transform="translate(893.9,230.7) rotate(351)"/>
<use href="#as" transform="translate(893.9,250.4) rotate(332)"/>
<use href="#as" transform="translate(893.9,270.0) rotate(318)"/>
<use href="#as" transform="translate(893.9,289.7) rotate(307)"/>
<use href="#ar" transform="translate(923.8,14.4) rotate(100)"/>
<use href="#ar" transform="translate(923.8,34.1) rotate(105)"/>
<use href="#as" transform="translate(923.8,53.8) rotate(60)"/>
<use href="#as" transform="translate(923.8,73.4) rotate(45)"/>
<use href="#as" transform="translate(923.8,93.1) rotate(40)"/>
<use href="#as" transform="translate(923.8,112.7) rotate(30)"/>
<use href="#as" transform="translate(923.8,132.4) rotate(25)"/>
<use href="#as" transform="translate(923.8,152.1) rotate(20)"/>
<use href="#as" transform="translate(923.8,171.7) rotate(20)"/>
<use href="#as" transform="translate(923.8,191.4) rotate(30)"/>
<use href="#as" transform="translate(923.8,211.0) rotate(10)"/>
<use href="#as" transform="translate(923.8,230.7) rotate(350)"/>
<use href="#as" transform="translate(923.8,250.4) rotate(330)"/>
<use href="#as" transform="translate(923.8,270.0) rotate(315)"/>
<use href="#as" transform="translate(923.8,289.7) rotate(305)"/>
</g>
</g>
<path d="M97.56,14.00 L98.25,23.83 L98.96,33.66 L99.69,43.49 L100.44,53.33 L101.22,63.16 L102.01,72.99 L102.83,82.82 L103.68,92.65 L104.55,102.48 L105.44,112.31 L106.36,122.14 L107.31,131.97 L108.29,141.81 L109.29,151.64 L110.32,161.47 L111.39,171.30 L112.48,181.13 L113.61,190.96 L114.77,200.79 L115.96,210.62 L117.19,220.46 L118.46,230.29 L119.76,240.12 L121.10,249.95 L122.48,259.78 L123.90,269.61 L125.36,279.44 L126.86,289.27 L128.41,299.11 L130.00,308.94 L131.64,318.77 L133.33,328.60 L135.07,338.43 L136.86,348.26 L138.70,358.09 L140.59,367.93 L142.54,377.76 L144.55,387.59 L146.62,397.42 L148.74,407.25 L150.93,417.08 L153.18,426.91 L155.50,436.74 L157.89,446.57 L160.35,456.41 L162.87,466.24 L165.48,476.07 L168.15,485.90 L170.91,495.73 L173.75,505.56 L176.67,515.39 L179.68,525.23 L182.77,535.06 L185.96,544.89 L189.24,554.72 L192.61,564.55 L196.08,574.38 L199.66,584.21 L203.34,594.04 L207.13,603.88 L211.02,613.71 L215.04,623.54 L219.17,633.37 L223.42,643.20 L227.79,653.03 L232.30,662.86 L236.93,672.69 L241.70,682.52 L246.61,692.36 L251.67,702.19 L256.87,712.02 L262.23,721.85 L267.74,731.68 L273.41,741.51 L279.25,751.34 L285.26,761.17 L291.45,771.01 L297.82,780.84 L304.37,790.67 L311.12,800.50" fill="none" stroke="#000" stroke-width="2.2"/>
<path d="M927.24,14.00 L926.55,23.83 L925.84,33.66 L925.11,43.49 L924.36,53.33 L923.58,63.16 L922.79,72.99 L921.97,82.82 L921.12,92.65 L920.25,102.48 L919.36,112.31 L918.44,122.14 L917.49,131.97 L916.51,141.81 L915.51,151.64 L914.48,161.47 L913.41,171.30 L912.32,181.13 L911.19,190.96 L910.03,200.79 L908.84,210.62 L907.61,220.46 L906.34,230.29 L905.04,240.12 L903.70,249.95 L902.32,259.78 L900.90,269.61 L899.44,279.44 L897.94,289.27 L896.39,299.11 L894.80,308.94 L893.16,318.77 L891.47,328.60 L889.73,338.43 L887.94,348.26 L886.10,358.09 L884.21,367.93 L882.26,377.76 L880.25,387.59 L878.18,397.42 L876.06,407.25 L873.87,417.08 L871.62,426.91 L869.30,436.74 L866.91,446.57 L864.45,456.41 L861.93,466.24 L859.32,476.07 L856.65,485.90 L853.89,495.73 L851.05,505.56 L848.13,515.39 L845.12,525.23 L842.03,535.06 L838.84,544.89 L835.56,554.72 L832.19,564.55 L828.72,574.38 L825.14,584.21 L821.46,594.04 L817.67,603.88 L813.78,613.71 L809.76,623.54 L805.63,633.37 L801.38,643.20 L797.01,653.03 L792.50,662.86 L787.87,672.69 L783.10,682.52 L778.19,692.36 L773.13,702.19 L767.93,712.02 L762.57,721.85 L757.06,731.68 L751.39,741.51 L745.55,751.34 L739.54,761.17 L733.35,771.01 L726.98,780.84 L720.43,790.67 L713.68,800.50" fill="none" stroke="#000" stroke-width="2.2"/>
</g>
<rect x="73.7" y="14.1" width="878.2" height="786.4" fill="none" stroke="#222222" stroke-width="1.4"/>
<line x1="74.0" y1="87.3" x2="82.9" y2="87.3" stroke="#222222" stroke-width="1.3"/>
<line x1="952.0" y1="87.3" x2="943.1" y2="87.3" stroke="#222222" stroke-width="1.3"/>
<text x="66.5" y="93.5" font-size="29.5" text-anchor="end">128</text>
<line x1="74.0" y1="323.4" x2="82.9" y2="323.4" stroke="#222222" stroke-width="1.3"/>
<line x1="952.0" y1="323.4" x2="943.1" y2="323.4" stroke="#222222" stroke-width="1.3"/>
<text x="66.5" y="329.6" font-size="29.5" text-anchor="end">256</text>
<line x1="74.0" y1="559.5" x2="82.9" y2="559.5" stroke="#222222" stroke-width="1.3"/>
<line x1="952.0" y1="559.5" x2="943.1" y2="559.5" stroke="#222222" stroke-width="1.3"/>
<text x="66.5" y="565.7" font-size="29.5" text-anchor="end">512</text>
<line x1="74.0" y1="795.6" x2="82.9" y2="795.6" stroke="#222222" stroke-width="1.3"/>
<line x1="952.0" y1="795.6" x2="943.1" y2="795.6" stroke="#222222" stroke-width="1.3"/>
<text x="66.5" y="801.8" font-size="29.5" text-anchor="end">1024</text>
<line x1="121.7" y1="800.5" x2="121.7" y2="792.0" stroke="#222222" stroke-width="1.3"/>
<line x1="121.7" y1="14.0" x2="121.7" y2="22.5" stroke="#222222" stroke-width="1.3"/>
<text x="121.7" y="829.8" font-size="29.5" text-anchor="middle">-3000</text>
<line x1="288.2" y1="800.5" x2="288.2" y2="792.0" stroke="#222222" stroke-width="1.3"/>
<line x1="288.2" y1="14.0" x2="288.2" y2="22.5" stroke="#222222" stroke-width="1.3"/>
<text x="288.2" y="829.8" font-size="29.5" text-anchor="middle">-2000</text>
<line x1="454.7" y1="800.5" x2="454.7" y2="792.0" stroke="#222222" stroke-width="1.3"/>
<line x1="454.7" y1="14.0" x2="454.7" y2="22.5" stroke="#222222" stroke-width="1.3"/>
<text x="454.7" y="829.8" font-size="29.5" text-anchor="middle">-1000</text>
<line x1="621.2" y1="800.5" x2="621.2" y2="792.0" stroke="#222222" stroke-width="1.3"/>
<line x1="621.2" y1="14.0" x2="621.2" y2="22.5" stroke="#222222" stroke-width="1.3"/>
<text x="621.2" y="829.8" font-size="29.5" text-anchor="middle">0</text>
<line x1="787.7" y1="800.5" x2="787.7" y2="792.0" stroke="#222222" stroke-width="1.3"/>
<line x1="787.7" y1="14.0" x2="787.7" y2="22.5" stroke="#222222" stroke-width="1.3"/>
<text x="787.7" y="829.8" font-size="29.5" text-anchor="middle">1000</text>
<text x="512.8" y="863.2" font-size="32" text-anchor="middle">Year CE</text>
<text transform="translate(30,439.5) rotate(-90)" font-size="33" text-anchor="middle" textLength="161" lengthAdjust="spacingAndGlyphs">Period (yr)</text>
<defs><linearGradient id="cbg" x1="0" y1="0" x2="1" y2="0">
<stop offset="0.00000" stop-color="#352a82"/><stop offset="0.01562" stop-color="#352a82"/>
<stop offset="0.01562" stop-color="#383089"/><stop offset="0.03125" stop-color="#383089"/>
<stop offset="0.03125" stop-color="#3c3491"/><stop offset="0.04688" stop-color="#3c3491"/>
<stop offset="0.04688" stop-color="#3e3a97"/><stop offset="0.06250" stop-color="#3e3a97"/>
<stop offset="0.06250" stop-color="#3f429b"/><stop offset="0.07812" stop-color="#3f429b"/>
<stop offset="0.07812" stop-color="#40499f"/><stop offset="0.09375" stop-color="#40499f"/>
<stop offset="0.09375" stop-color="#4151a3"/><stop offset="0.10938" stop-color="#4151a3"/>
<stop offset="0.10938" stop-color="#3f56a8"/><stop offset="0.12500" stop-color="#3f56a8"/>
<stop offset="0.12500" stop-color="#3d5cad"/><stop offset="0.14062" stop-color="#3d5cad"/>
<stop offset="0.14062" stop-color="#3b61b2"/><stop offset="0.15625" stop-color="#3b61b2"/>
<stop offset="0.15625" stop-color="#3a66b5"/><stop offset="0.17188" stop-color="#3a66b5"/>
<stop offset="0.17188" stop-color="#396ab8"/><stop offset="0.18750" stop-color="#396ab8"/>
<stop offset="0.18750" stop-color="#386fbb"/><stop offset="0.20312" stop-color="#386fbb"/>
<stop offset="0.20312" stop-color="#3674bf"/><stop offset="0.21875" stop-color="#3674bf"/>
<stop offset="0.21875" stop-color="#347ac2"/><stop offset="0.23438" stop-color="#347ac2"/>
<stop offset="0.23438" stop-color="#317fc6"/><stop offset="0.25000" stop-color="#317fc6"/>
<stop offset="0.25000" stop-color="#2f84c9"/><stop offset="0.26562" stop-color="#2f84c9"/>
<stop offset="0.26562" stop-color="#2d87cb"/><stop offset="0.28125" stop-color="#2d87cb"/>
<stop offset="0.28125" stop-color="#2b8acd"/><stop offset="0.29688" stop-color="#2b8acd"/>
<stop offset="0.29688" stop-color="#288dcf"/><stop offset="0.31250" stop-color="#288dcf"/>
<stop offset="0.31250" stop-color="#2491d1"/><stop offset="0.32812" stop-color="#2491d1"/>
<stop offset="0.32812" stop-color="#1e95d2"/><stop offset="0.34375" stop-color="#1e95d2"/>
<stop offset="0.34375" stop-color="#1a98d3"/><stop offset="0.35938" stop-color="#1a98d3"/>
<stop offset="0.35938" stop-color="#159cd2"/><stop offset="0.37500" stop-color="#159cd2"/>
<stop offset="0.37500" stop-color="#119fd0"/><stop offset="0.39062" stop-color="#119fd0"/>
<stop offset="0.39062" stop-color="#0ca3cf"/><stop offset="0.40625" stop-color="#0ca3cf"/>
<stop offset="0.40625" stop-color="#0fa5ca"/><stop offset="0.42188" stop-color="#0fa5ca"/>
<stop offset="0.42188" stop-color="#13a8c6"/><stop offset="0.43750" stop-color="#13a8c6"/>
<stop offset="0.43750" stop-color="#17aac0"/><stop offset="0.45312" stop-color="#17aac0"/>
<stop offset="0.45312" stop-color="#20acb7"/><stop offset="0.46875" stop-color="#20acb7"/>
<stop offset="0.46875" stop-color="#2baeab"/><stop offset="0.48438" stop-color="#2baeab"/>
<stop offset="0.48438" stop-color="#36afa0"/><stop offset="0.50000" stop-color="#36afa0"/>
<stop offset="0.50000" stop-color="#40b198"/><stop offset="0.51562" stop-color="#40b198"/>
<stop offset="0.51562" stop-color="#49b293"/><stop offset="0.53125" stop-color="#49b293"/>
<stop offset="0.53125" stop-color="#52b48e"/><stop offset="0.54688" stop-color="#52b48e"/>
<stop offset="0.54688" stop-color="#5bb689"/><stop offset="0.56250" stop-color="#5bb689"/>
<stop offset="0.56250" stop-color="#65b782"/><stop offset="0.57812" stop-color="#65b782"/>
<stop offset="0.57812" stop-color="#6fb97c"/><stop offset="0.59375" stop-color="#6fb97c"/>
<stop offset="0.59375" stop-color="#79bb76"/><stop offset="0.60938" stop-color="#79bb76"/>
<stop offset="0.60938" stop-color="#84bc71"/><stop offset="0.62500" stop-color="#84bc71"/>
<stop offset="0.62500" stop-color="#8fbd6c"/><stop offset="0.64062" stop-color="#8fbd6c"/>
<stop offset="0.64062" stop-color="#9abe67"/><stop offset="0.65625" stop-color="#9abe67"/>
<stop offset="0.65625" stop-color="#a3be64"/><stop offset="0.67188" stop-color="#a3be64"/>
<stop offset="0.67188" stop-color="#acbd60"/><stop offset="0.68750" stop-color="#acbd60"/>
<stop offset="0.68750" stop-color="#b4bd5d"/><stop offset="0.70312" stop-color="#b4bd5d"/>
<stop offset="0.70312" stop-color="#bdbd59"/><stop offset="0.71875" stop-color="#bdbd59"/>
<stop offset="0.71875" stop-color="#c6bc55"/><stop offset="0.73438" stop-color="#c6bc55"/>
<stop offset="0.73438" stop-color="#cfbb50"/><stop offset="0.75000" stop-color="#cfbb50"/>
<stop offset="0.75000" stop-color="#d7bb4d"/><stop offset="0.76562" stop-color="#d7bb4d"/>
<stop offset="0.76562" stop-color="#deba4a"/><stop offset="0.78125" stop-color="#deba4a"/>
<stop offset="0.78125" stop-color="#e4b948"/><stop offset="0.79688" stop-color="#e4b948"/>
<stop offset="0.79688" stop-color="#eab944"/><stop offset="0.81250" stop-color="#eab944"/>
<stop offset="0.81250" stop-color="#efba40"/><stop offset="0.82812" stop-color="#efba40"/>
<stop offset="0.82812" stop-color="#f4bb3a"/><stop offset="0.84375" stop-color="#f4bb3a"/>
<stop offset="0.84375" stop-color="#f8bc35"/><stop offset="0.85938" stop-color="#f8bc35"/>
<stop offset="0.85938" stop-color="#f9c02e"/><stop offset="0.87500" stop-color="#f9c02e"/>
<stop offset="0.87500" stop-color="#fbc428"/><stop offset="0.89062" stop-color="#fbc428"/>
<stop offset="0.89062" stop-color="#fcc821"/><stop offset="0.90625" stop-color="#fcc821"/>
<stop offset="0.90625" stop-color="#fbcf17"/><stop offset="0.92188" stop-color="#fbcf17"/>
<stop offset="0.92188" stop-color="#fad60d"/><stop offset="0.93750" stop-color="#fad60d"/>
<stop offset="0.93750" stop-color="#f9de03"/><stop offset="0.95312" stop-color="#f9de03"/>
<stop offset="0.95312" stop-color="#f9e100"/><stop offset="0.96875" stop-color="#f9e100"/>
<stop offset="0.96875" stop-color="#f9e300"/><stop offset="0.98438" stop-color="#f9e300"/>
<stop offset="0.98438" stop-color="#f9e400"/><stop offset="1.00000" stop-color="#f9e400"/>
</linearGradient></defs>
<rect x="121.0" y="890.3" width="792.0" height="35.200000000000045" fill="url(#cbg)"/>
<text x="121.0" y="954.7" font-size="29.5" text-anchor="middle">0</text>
<line x1="200.2" y1="925.5" x2="200.2" y2="917.9" stroke="#222222" stroke-width="1.1"/>
<text x="200.2" y="954.7" font-size="29.5" text-anchor="middle">0.1</text>
<line x1="279.4" y1="925.5" x2="279.4" y2="917.9" stroke="#222222" stroke-width="1.1"/>
<text x="279.4" y="954.7" font-size="29.5" text-anchor="middle">0.2</text>
<line x1="358.6" y1="925.5" x2="358.6" y2="917.9" stroke="#222222" stroke-width="1.1"/>
<text x="358.6" y="954.7" font-size="29.5" text-anchor="middle">0.3</text>
<line x1="437.8" y1="925.5" x2="437.8" y2="917.9" stroke="#222222" stroke-width="1.1"/>
<text x="437.8" y="954.7" font-size="29.5" text-anchor="middle">0.4</text>
<line x1="517.0" y1="925.5" x2="517.0" y2="917.9" stroke="#222222" stroke-width="1.1"/>
<text x="517.0" y="954.7" font-size="29.5" text-anchor="middle">0.5</text>
<line x1="596.2" y1="925.5" x2="596.2" y2="917.9" stroke="#222222" stroke-width="1.1"/>
<text x="596.2" y="954.7" font-size="29.5" text-anchor="middle">0.6</text>
<line x1="675.4" y1="925.5" x2="675.4" y2="917.9" stroke="#222222" stroke-width="1.1"/>
<text x="675.4" y="954.7" font-size="29.5" text-anchor="middle">0.7</text>
<line x1="754.6" y1="925.5" x2="754.6" y2="917.9" stroke="#222222" stroke-width="1.1"/>
<text x="754.6" y="954.7" font-size="29.5" text-anchor="middle">0.8</text>
<line x1="833.8" y1="925.5" x2="833.8" y2="917.9" stroke="#222222" stroke-width="1.1"/>
<text x="833.8" y="954.7" font-size="29.5" text-anchor="middle">0.9</text>
<text x="913.0" y="954.7" font-size="29.5" text-anchor="middle">1</text>
</svg></body></html>
